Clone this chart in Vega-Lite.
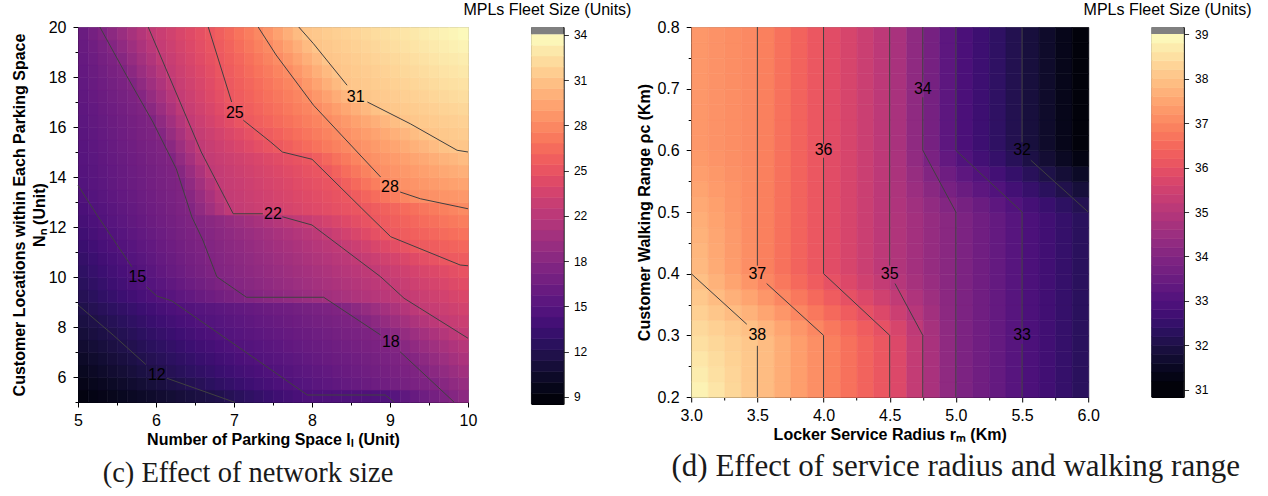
{
"$schema": "https://vega.github.io/schema/vega-lite/v6.json",
"background": "white",
"padding": {"left": 10, "top": 1, "right": 0, "bottom": 0},
"bounds": "flush",
"spacing": 63.4,
"resolve": {"scale": {"color": "independent", "stroke": "independent"}},
"config": {
  "font": "Liberation Sans",
  "view": {"stroke": null},
  "axis": {"labelFont": "Liberation Sans", "labelFontSize": 16, "labelColor": "#000", "titleFont": "Liberation Sans", "titleFontSize": 16, "titleFontWeight": "bold", "titleColor": "#000", "domainColor": "#000", "tickColor": "#000", "grid": false, "zindex": 1, "labelOverlap": false, "labelFlush": false},
  "title": {"font": "Liberation Sans"}
},
"hconcat": [
{
  "width": 390, "height": 375,
  "view": {"stroke": "#8c8c8c"},
  "title": {"text": "(c) Effect of network size", "orient": "bottom", "anchor": "middle", "frame": "group", "dx": -25, "offset": 12, "font": "Liberation Serif", "fontSize": 28.5, "fontWeight": "normal", "color": "#1a1a1a"},
  "layer": [
    {
      "data": {"values": [
{"x":5.0625,"y":5.25,"v":9.29},{"x":5.1875,"y":5.25,"v":9.49},{"x":5.3125,"y":5.25,"v":9.69},{"x":5.4375,"y":5.25,"v":9.88},{"x":5.5625,"y":5.25,"v":10.08},{"x":5.6875,"y":5.25,"v":10.28},{"x":5.8125,"y":5.25,"v":10.48},{"x":5.9375,"y":5.25,"v":10.68},{"x":6.0625,"y":5.25,"v":10.87},{"x":6.1875,"y":5.25,"v":11.07},{"x":6.3125,"y":5.25,"v":11.27},{"x":6.4375,"y":5.25,"v":11.47},{"x":6.5625,"y":5.25,"v":11.67},{"x":6.6875,"y":5.25,"v":11.87},{"x":6.8125,"y":5.25,"v":12.1},{"x":6.9375,"y":5.25,"v":12.4},{"x":7.0625,"y":5.25,"v":12.7},{"x":7.1875,"y":5.25,"v":13.0},{"x":7.3125,"y":5.25,"v":13.3},{"x":7.4375,"y":5.25,"v":13.6},{"x":7.5625,"y":5.25,"v":13.9},{"x":7.6875,"y":5.25,"v":14.2},{"x":7.8125,"y":5.25,"v":14.5},{"x":7.9375,"y":5.25,"v":14.79},{"x":8.0625,"y":5.25,"v":14.82},{"x":8.1875,"y":5.25,"v":14.85},{"x":8.3125,"y":5.25,"v":14.87},{"x":8.4375,"y":5.25,"v":14.9},{"x":8.5625,"y":5.25,"v":14.92},{"x":8.6875,"y":5.25,"v":14.95},{"x":8.8125,"y":5.25,"v":14.97},{"x":8.9375,"y":5.25,"v":15.0},{"x":9.0625,"y":5.25,"v":15.43},{"x":9.1875,"y":5.25,"v":15.9},{"x":9.3125,"y":5.25,"v":16.37},{"x":9.4375,"y":5.25,"v":16.85},{"x":9.5625,"y":5.25,"v":17.32},{"x":9.6875,"y":5.25,"v":17.8},{"x":9.8125,"y":5.25,"v":18.28},{"x":9.9375,"y":5.25,"v":18.77},
{"x":5.0625,"y":5.75,"v":9.7},{"x":5.1875,"y":5.75,"v":9.93},{"x":5.3125,"y":5.75,"v":10.16},{"x":5.4375,"y":5.75,"v":10.39},{"x":5.5625,"y":5.75,"v":10.62},{"x":5.6875,"y":5.75,"v":10.85},{"x":5.8125,"y":5.75,"v":11.08},{"x":5.9375,"y":5.75,"v":11.31},{"x":6.0625,"y":5.75,"v":11.54},{"x":6.1875,"y":5.75,"v":11.77},{"x":6.3125,"y":5.75,"v":12.01},{"x":6.4375,"y":5.75,"v":12.27},{"x":6.5625,"y":5.75,"v":12.54},{"x":6.6875,"y":5.75,"v":12.8},{"x":6.8125,"y":5.75,"v":13.07},{"x":6.9375,"y":5.75,"v":13.33},{"x":7.0625,"y":5.75,"v":13.6},{"x":7.1875,"y":5.75,"v":13.87},{"x":7.3125,"y":5.75,"v":14.13},{"x":7.4375,"y":5.75,"v":14.4},{"x":7.5625,"y":5.75,"v":14.66},{"x":7.6875,"y":5.75,"v":14.93},{"x":7.8125,"y":5.75,"v":15.15},{"x":7.9375,"y":5.75,"v":15.35},{"x":8.0625,"y":5.75,"v":15.56},{"x":8.1875,"y":5.75,"v":15.76},{"x":8.3125,"y":5.75,"v":15.96},{"x":8.4375,"y":5.75,"v":16.17},{"x":8.5625,"y":5.75,"v":16.37},{"x":8.6875,"y":5.75,"v":16.58},{"x":8.8125,"y":5.75,"v":16.78},{"x":8.9375,"y":5.75,"v":16.98},{"x":9.0625,"y":5.75,"v":17.19},{"x":9.1875,"y":5.75,"v":17.39},{"x":9.3125,"y":5.75,"v":17.6},{"x":9.4375,"y":5.75,"v":17.8},{"x":9.5625,"y":5.75,"v":18.01},{"x":9.6875,"y":5.75,"v":18.48},{"x":9.8125,"y":5.75,"v":18.96},{"x":9.9375,"y":5.75,"v":19.43},
{"x":5.0625,"y":6.25,"v":10.1},{"x":5.1875,"y":6.25,"v":10.35},{"x":5.3125,"y":6.25,"v":10.61},{"x":5.4375,"y":6.25,"v":10.87},{"x":5.5625,"y":6.25,"v":11.12},{"x":5.6875,"y":6.25,"v":11.38},{"x":5.8125,"y":6.25,"v":11.64},{"x":5.9375,"y":6.25,"v":11.89},{"x":6.0625,"y":6.25,"v":12.14},{"x":6.1875,"y":6.25,"v":12.39},{"x":6.3125,"y":6.25,"v":12.64},{"x":6.4375,"y":6.25,"v":12.89},{"x":6.5625,"y":6.25,"v":13.14},{"x":6.6875,"y":6.25,"v":13.38},{"x":6.8125,"y":6.25,"v":13.63},{"x":6.9375,"y":6.25,"v":13.88},{"x":7.0625,"y":6.25,"v":14.13},{"x":7.1875,"y":6.25,"v":14.38},{"x":7.3125,"y":6.25,"v":14.63},{"x":7.4375,"y":6.25,"v":14.88},{"x":7.5625,"y":6.25,"v":15.1},{"x":7.6875,"y":6.25,"v":15.3},{"x":7.8125,"y":6.25,"v":15.5},{"x":7.9375,"y":6.25,"v":15.69},{"x":8.0625,"y":6.25,"v":15.89},{"x":8.1875,"y":6.25,"v":16.09},{"x":8.3125,"y":6.25,"v":16.29},{"x":8.4375,"y":6.25,"v":16.49},{"x":8.5625,"y":6.25,"v":16.69},{"x":8.6875,"y":6.25,"v":16.89},{"x":8.8125,"y":6.25,"v":17.08},{"x":8.9375,"y":6.25,"v":17.28},{"x":9.0625,"y":6.25,"v":17.48},{"x":9.1875,"y":6.25,"v":17.68},{"x":9.3125,"y":6.25,"v":17.88},{"x":9.4375,"y":6.25,"v":18.18},{"x":9.5625,"y":6.25,"v":18.66},{"x":9.6875,"y":6.25,"v":19.13},{"x":9.8125,"y":6.25,"v":19.61},{"x":9.9375,"y":6.25,"v":20.08},
{"x":5.0625,"y":6.75,"v":10.48},{"x":5.1875,"y":6.75,"v":10.75},{"x":5.3125,"y":6.75,"v":11.01},{"x":5.4375,"y":6.75,"v":11.27},{"x":5.5625,"y":6.75,"v":11.54},{"x":5.6875,"y":6.75,"v":11.8},{"x":5.8125,"y":6.75,"v":12.07},{"x":5.9375,"y":6.75,"v":12.32},{"x":6.0625,"y":6.75,"v":12.57},{"x":6.1875,"y":6.75,"v":12.83},{"x":6.3125,"y":6.75,"v":13.08},{"x":6.4375,"y":6.75,"v":13.33},{"x":6.5625,"y":6.75,"v":13.59},{"x":6.6875,"y":6.75,"v":13.84},{"x":6.8125,"y":6.75,"v":14.09},{"x":6.9375,"y":6.75,"v":14.35},{"x":7.0625,"y":6.75,"v":14.6},{"x":7.1875,"y":6.75,"v":14.85},{"x":7.3125,"y":6.75,"v":15.08},{"x":7.4375,"y":6.75,"v":15.27},{"x":7.5625,"y":6.75,"v":15.46},{"x":7.6875,"y":6.75,"v":15.66},{"x":7.8125,"y":6.75,"v":15.85},{"x":7.9375,"y":6.75,"v":16.04},{"x":8.0625,"y":6.75,"v":16.23},{"x":8.1875,"y":6.75,"v":16.42},{"x":8.3125,"y":6.75,"v":16.61},{"x":8.4375,"y":6.75,"v":16.8},{"x":8.5625,"y":6.75,"v":17.0},{"x":8.6875,"y":6.75,"v":17.19},{"x":8.8125,"y":6.75,"v":17.38},{"x":8.9375,"y":6.75,"v":17.57},{"x":9.0625,"y":6.75,"v":17.76},{"x":9.1875,"y":6.75,"v":17.95},{"x":9.3125,"y":6.75,"v":18.35},{"x":9.4375,"y":6.75,"v":18.83},{"x":9.5625,"y":6.75,"v":19.3},{"x":9.6875,"y":6.75,"v":19.77},{"x":9.8125,"y":6.75,"v":20.25},{"x":9.9375,"y":6.75,"v":20.72},
{"x":5.0625,"y":7.25,"v":10.87},{"x":5.1875,"y":7.25,"v":11.13},{"x":5.3125,"y":7.25,"v":11.4},{"x":5.4375,"y":7.25,"v":11.66},{"x":5.5625,"y":7.25,"v":11.92},{"x":5.6875,"y":7.25,"v":12.18},{"x":5.8125,"y":7.25,"v":12.45},{"x":5.9375,"y":7.25,"v":12.71},{"x":6.0625,"y":7.25,"v":12.97},{"x":6.1875,"y":7.25,"v":13.23},{"x":6.3125,"y":7.25,"v":13.49},{"x":6.4375,"y":7.25,"v":13.76},{"x":6.5625,"y":7.25,"v":14.02},{"x":6.6875,"y":7.25,"v":14.28},{"x":6.8125,"y":7.25,"v":14.54},{"x":6.9375,"y":7.25,"v":14.81},{"x":7.0625,"y":7.25,"v":15.05},{"x":7.1875,"y":7.25,"v":15.23},{"x":7.3125,"y":7.25,"v":15.42},{"x":7.4375,"y":7.25,"v":15.61},{"x":7.5625,"y":7.25,"v":15.79},{"x":7.6875,"y":7.25,"v":15.98},{"x":7.8125,"y":7.25,"v":16.17},{"x":7.9375,"y":7.25,"v":16.35},{"x":8.0625,"y":7.25,"v":16.54},{"x":8.1875,"y":7.25,"v":16.73},{"x":8.3125,"y":7.25,"v":16.91},{"x":8.4375,"y":7.25,"v":17.1},{"x":8.5625,"y":7.25,"v":17.29},{"x":8.6875,"y":7.25,"v":17.47},{"x":8.8125,"y":7.25,"v":17.66},{"x":8.9375,"y":7.25,"v":17.85},{"x":9.0625,"y":7.25,"v":18.08},{"x":9.1875,"y":7.25,"v":18.55},{"x":9.3125,"y":7.25,"v":19.02},{"x":9.4375,"y":7.25,"v":19.5},{"x":9.5625,"y":7.25,"v":19.97},{"x":9.6875,"y":7.25,"v":20.44},{"x":9.8125,"y":7.25,"v":20.91},{"x":9.9375,"y":7.25,"v":21.38},
{"x":5.0625,"y":7.75,"v":11.26},{"x":5.1875,"y":7.75,"v":11.52},{"x":5.3125,"y":7.75,"v":11.78},{"x":5.4375,"y":7.75,"v":12.04},{"x":5.5625,"y":7.75,"v":12.31},{"x":5.6875,"y":7.75,"v":12.58},{"x":5.8125,"y":7.75,"v":12.85},{"x":5.9375,"y":7.75,"v":13.12},{"x":6.0625,"y":7.75,"v":13.4},{"x":6.1875,"y":7.75,"v":13.67},{"x":6.3125,"y":7.75,"v":13.94},{"x":6.4375,"y":7.75,"v":14.21},{"x":6.5625,"y":7.75,"v":14.48},{"x":6.6875,"y":7.75,"v":14.76},{"x":6.8125,"y":7.75,"v":15.02},{"x":6.9375,"y":7.75,"v":15.2},{"x":7.0625,"y":7.75,"v":15.38},{"x":7.1875,"y":7.75,"v":15.57},{"x":7.3125,"y":7.75,"v":15.75},{"x":7.4375,"y":7.75,"v":15.93},{"x":7.5625,"y":7.75,"v":16.12},{"x":7.6875,"y":7.75,"v":16.3},{"x":7.8125,"y":7.75,"v":16.48},{"x":7.9375,"y":7.75,"v":16.67},{"x":8.0625,"y":7.75,"v":16.85},{"x":8.1875,"y":7.75,"v":17.03},{"x":8.3125,"y":7.75,"v":17.21},{"x":8.4375,"y":7.75,"v":17.4},{"x":8.5625,"y":7.75,"v":17.58},{"x":8.6875,"y":7.75,"v":17.76},{"x":8.8125,"y":7.75,"v":17.95},{"x":8.9375,"y":7.75,"v":18.34},{"x":9.0625,"y":7.75,"v":18.82},{"x":9.1875,"y":7.75,"v":19.3},{"x":9.3125,"y":7.75,"v":19.78},{"x":9.4375,"y":7.75,"v":20.26},{"x":9.5625,"y":7.75,"v":20.74},{"x":9.6875,"y":7.75,"v":21.22},{"x":9.8125,"y":7.75,"v":21.7},{"x":9.9375,"y":7.75,"v":22.09},
{"x":5.0625,"y":8.25,"v":11.64},{"x":5.1875,"y":8.25,"v":11.89},{"x":5.3125,"y":8.25,"v":12.16},{"x":5.4375,"y":8.25,"v":12.45},{"x":5.5625,"y":8.25,"v":12.73},{"x":5.6875,"y":8.25,"v":13.01},{"x":5.8125,"y":8.25,"v":13.29},{"x":5.9375,"y":8.25,"v":13.57},{"x":6.0625,"y":8.25,"v":13.86},{"x":6.1875,"y":8.25,"v":14.14},{"x":6.3125,"y":8.25,"v":14.42},{"x":6.4375,"y":8.25,"v":14.7},{"x":6.5625,"y":8.25,"v":14.98},{"x":6.6875,"y":8.25,"v":15.17},{"x":6.8125,"y":8.25,"v":15.36},{"x":6.9375,"y":8.25,"v":15.54},{"x":7.0625,"y":8.25,"v":15.73},{"x":7.1875,"y":8.25,"v":15.91},{"x":7.3125,"y":8.25,"v":16.1},{"x":7.4375,"y":8.25,"v":16.28},{"x":7.5625,"y":8.25,"v":16.47},{"x":7.6875,"y":8.25,"v":16.65},{"x":7.8125,"y":8.25,"v":16.84},{"x":7.9375,"y":8.25,"v":17.02},{"x":8.0625,"y":8.25,"v":17.21},{"x":8.1875,"y":8.25,"v":17.39},{"x":8.3125,"y":8.25,"v":17.58},{"x":8.4375,"y":8.25,"v":17.76},{"x":8.5625,"y":8.25,"v":17.94},{"x":8.6875,"y":8.25,"v":18.34},{"x":8.8125,"y":8.25,"v":18.83},{"x":8.9375,"y":8.25,"v":19.31},{"x":9.0625,"y":8.25,"v":19.8},{"x":9.1875,"y":8.25,"v":20.28},{"x":9.3125,"y":8.25,"v":20.77},{"x":9.4375,"y":8.25,"v":21.25},{"x":9.5625,"y":8.25,"v":21.74},{"x":9.6875,"y":8.25,"v":22.11},{"x":9.8125,"y":8.25,"v":22.36},{"x":9.9375,"y":8.25,"v":22.6},
{"x":5.0625,"y":8.75,"v":12.03},{"x":5.1875,"y":8.75,"v":12.32},{"x":5.3125,"y":8.75,"v":12.61},{"x":5.4375,"y":8.75,"v":12.9},{"x":5.5625,"y":8.75,"v":13.19},{"x":5.6875,"y":8.75,"v":13.48},{"x":5.8125,"y":8.75,"v":13.77},{"x":5.9375,"y":8.75,"v":14.06},{"x":6.0625,"y":8.75,"v":14.36},{"x":6.1875,"y":8.75,"v":14.65},{"x":6.3125,"y":8.75,"v":14.94},{"x":6.4375,"y":8.75,"v":15.14},{"x":6.5625,"y":8.75,"v":15.33},{"x":6.6875,"y":8.75,"v":15.52},{"x":6.8125,"y":8.75,"v":15.7},{"x":6.9375,"y":8.75,"v":15.89},{"x":7.0625,"y":8.75,"v":16.07},{"x":7.1875,"y":8.75,"v":16.26},{"x":7.3125,"y":8.75,"v":16.44},{"x":7.4375,"y":8.75,"v":16.63},{"x":7.5625,"y":8.75,"v":16.81},{"x":7.6875,"y":8.75,"v":17.0},{"x":7.8125,"y":8.75,"v":17.19},{"x":7.9375,"y":8.75,"v":17.37},{"x":8.0625,"y":8.75,"v":17.56},{"x":8.1875,"y":8.75,"v":17.74},{"x":8.3125,"y":8.75,"v":17.93},{"x":8.4375,"y":8.75,"v":18.3},{"x":8.5625,"y":8.75,"v":18.79},{"x":8.6875,"y":8.75,"v":19.28},{"x":8.8125,"y":8.75,"v":19.77},{"x":8.9375,"y":8.75,"v":20.27},{"x":9.0625,"y":8.75,"v":20.76},{"x":9.1875,"y":8.75,"v":21.25},{"x":9.3125,"y":8.75,"v":21.74},{"x":9.4375,"y":8.75,"v":22.12},{"x":9.5625,"y":8.75,"v":22.37},{"x":9.6875,"y":8.75,"v":22.62},{"x":9.8125,"y":8.75,"v":22.87},{"x":9.9375,"y":8.75,"v":23.12},
{"x":5.0625,"y":9.25,"v":12.4},{"x":5.1875,"y":9.25,"v":12.74},{"x":5.3125,"y":9.25,"v":13.09},{"x":5.4375,"y":9.25,"v":13.43},{"x":5.5625,"y":9.25,"v":13.77},{"x":5.6875,"y":9.25,"v":14.11},{"x":5.8125,"y":9.25,"v":14.46},{"x":5.9375,"y":9.25,"v":14.8},{"x":6.0625,"y":9.25,"v":15.14},{"x":6.1875,"y":9.25,"v":15.47},{"x":6.3125,"y":9.25,"v":15.81},{"x":6.4375,"y":9.25,"v":16.14},{"x":6.5625,"y":9.25,"v":16.48},{"x":6.6875,"y":9.25,"v":16.81},{"x":6.8125,"y":9.25,"v":17.15},{"x":6.9375,"y":9.25,"v":17.48},{"x":7.0625,"y":9.25,"v":17.82},{"x":7.1875,"y":9.25,"v":18.11},{"x":7.3125,"y":9.25,"v":18.36},{"x":7.4375,"y":9.25,"v":18.61},{"x":7.5625,"y":9.25,"v":18.86},{"x":7.6875,"y":9.25,"v":19.1},{"x":7.8125,"y":9.25,"v":19.35},{"x":7.9375,"y":9.25,"v":19.6},{"x":8.0625,"y":9.25,"v":19.85},{"x":8.1875,"y":9.25,"v":20.09},{"x":8.3125,"y":9.25,"v":20.34},{"x":8.4375,"y":9.25,"v":20.59},{"x":8.5625,"y":9.25,"v":20.84},{"x":8.6875,"y":9.25,"v":21.08},{"x":8.8125,"y":9.25,"v":21.33},{"x":8.9375,"y":9.25,"v":21.58},{"x":9.0625,"y":9.25,"v":21.83},{"x":9.1875,"y":9.25,"v":22.08},{"x":9.3125,"y":9.25,"v":22.34},{"x":9.4375,"y":9.25,"v":22.6},{"x":9.5625,"y":9.25,"v":22.86},{"x":9.6875,"y":9.25,"v":23.11},{"x":9.8125,"y":9.25,"v":23.37},{"x":9.9375,"y":9.25,"v":23.63},
{"x":5.0625,"y":9.75,"v":12.72},{"x":5.1875,"y":9.75,"v":13.08},{"x":5.3125,"y":9.75,"v":13.44},{"x":5.4375,"y":9.75,"v":13.8},{"x":5.5625,"y":9.75,"v":14.17},{"x":5.6875,"y":9.75,"v":14.53},{"x":5.8125,"y":9.75,"v":14.89},{"x":5.9375,"y":9.75,"v":15.25},{"x":6.0625,"y":9.75,"v":15.61},{"x":6.1875,"y":9.75,"v":15.96},{"x":6.3125,"y":9.75,"v":16.32},{"x":6.4375,"y":9.75,"v":16.68},{"x":6.5625,"y":9.75,"v":17.04},{"x":6.6875,"y":9.75,"v":17.39},{"x":6.8125,"y":9.75,"v":17.75},{"x":6.9375,"y":9.75,"v":18.07},{"x":7.0625,"y":9.75,"v":18.31},{"x":7.1875,"y":9.75,"v":18.55},{"x":7.3125,"y":9.75,"v":18.79},{"x":7.4375,"y":9.75,"v":19.03},{"x":7.5625,"y":9.75,"v":19.27},{"x":7.6875,"y":9.75,"v":19.51},{"x":7.8125,"y":9.75,"v":19.76},{"x":7.9375,"y":9.75,"v":20.0},{"x":8.0625,"y":9.75,"v":20.24},{"x":8.1875,"y":9.75,"v":20.48},{"x":8.3125,"y":9.75,"v":20.73},{"x":8.4375,"y":9.75,"v":20.97},{"x":8.5625,"y":9.75,"v":21.21},{"x":8.6875,"y":9.75,"v":21.45},{"x":8.8125,"y":9.75,"v":21.69},{"x":8.9375,"y":9.75,"v":21.94},{"x":9.0625,"y":9.75,"v":22.2},{"x":9.1875,"y":9.75,"v":22.48},{"x":9.3125,"y":9.75,"v":22.76},{"x":9.4375,"y":9.75,"v":23.03},{"x":9.5625,"y":9.75,"v":23.31},{"x":9.6875,"y":9.75,"v":23.59},{"x":9.8125,"y":9.75,"v":23.86},{"x":9.9375,"y":9.75,"v":24.14},
{"x":5.0625,"y":10.25,"v":13.04},{"x":5.1875,"y":10.25,"v":13.41},{"x":5.3125,"y":10.25,"v":13.78},{"x":5.4375,"y":10.25,"v":14.14},{"x":5.5625,"y":10.25,"v":14.51},{"x":5.6875,"y":10.25,"v":14.88},{"x":5.8125,"y":10.25,"v":15.24},{"x":5.9375,"y":10.25,"v":15.61},{"x":6.0625,"y":10.25,"v":15.98},{"x":6.1875,"y":10.25,"v":16.35},{"x":6.3125,"y":10.25,"v":16.71},{"x":6.4375,"y":10.25,"v":17.08},{"x":6.5625,"y":10.25,"v":17.45},{"x":6.6875,"y":10.25,"v":17.82},{"x":6.8125,"y":10.25,"v":18.12},{"x":6.9375,"y":10.25,"v":18.37},{"x":7.0625,"y":10.25,"v":18.62},{"x":7.1875,"y":10.25,"v":18.86},{"x":7.3125,"y":10.25,"v":19.11},{"x":7.4375,"y":10.25,"v":19.35},{"x":7.5625,"y":10.25,"v":19.6},{"x":7.6875,"y":10.25,"v":19.85},{"x":7.8125,"y":10.25,"v":20.09},{"x":7.9375,"y":10.25,"v":20.34},{"x":8.0625,"y":10.25,"v":20.59},{"x":8.1875,"y":10.25,"v":20.83},{"x":8.3125,"y":10.25,"v":21.08},{"x":8.4375,"y":10.25,"v":21.33},{"x":8.5625,"y":10.25,"v":21.57},{"x":8.6875,"y":10.25,"v":21.82},{"x":8.8125,"y":10.25,"v":22.07},{"x":8.9375,"y":10.25,"v":22.36},{"x":9.0625,"y":10.25,"v":22.65},{"x":9.1875,"y":10.25,"v":22.93},{"x":9.3125,"y":10.25,"v":23.22},{"x":9.4375,"y":10.25,"v":23.51},{"x":9.5625,"y":10.25,"v":23.79},{"x":9.6875,"y":10.25,"v":24.08},{"x":9.8125,"y":10.25,"v":24.36},{"x":9.9375,"y":10.25,"v":24.65},
{"x":5.0625,"y":10.75,"v":13.35},{"x":5.1875,"y":10.75,"v":13.72},{"x":5.3125,"y":10.75,"v":14.09},{"x":5.4375,"y":10.75,"v":14.46},{"x":5.5625,"y":10.75,"v":14.83},{"x":5.6875,"y":10.75,"v":15.19},{"x":5.8125,"y":10.75,"v":15.54},{"x":5.9375,"y":10.75,"v":15.89},{"x":6.0625,"y":10.75,"v":16.24},{"x":6.1875,"y":10.75,"v":16.59},{"x":6.3125,"y":10.75,"v":16.94},{"x":6.4375,"y":10.75,"v":17.3},{"x":6.5625,"y":10.75,"v":17.65},{"x":6.6875,"y":10.75,"v":17.99},{"x":6.8125,"y":10.75,"v":18.26},{"x":6.9375,"y":10.75,"v":18.53},{"x":7.0625,"y":10.75,"v":18.8},{"x":7.1875,"y":10.75,"v":19.06},{"x":7.3125,"y":10.75,"v":19.33},{"x":7.4375,"y":10.75,"v":19.6},{"x":7.5625,"y":10.75,"v":19.87},{"x":7.6875,"y":10.75,"v":20.13},{"x":7.8125,"y":10.75,"v":20.4},{"x":7.9375,"y":10.75,"v":20.67},{"x":8.0625,"y":10.75,"v":20.93},{"x":8.1875,"y":10.75,"v":21.2},{"x":8.3125,"y":10.75,"v":21.47},{"x":8.4375,"y":10.75,"v":21.74},{"x":8.5625,"y":10.75,"v":22.01},{"x":8.6875,"y":10.75,"v":22.34},{"x":8.8125,"y":10.75,"v":22.67},{"x":8.9375,"y":10.75,"v":23.0},{"x":9.0625,"y":10.75,"v":23.33},{"x":9.1875,"y":10.75,"v":23.67},{"x":9.3125,"y":10.75,"v":24.0},{"x":9.4375,"y":10.75,"v":24.33},{"x":9.5625,"y":10.75,"v":24.66},{"x":9.6875,"y":10.75,"v":24.99},{"x":9.8125,"y":10.75,"v":25.15},{"x":9.9375,"y":10.75,"v":25.31},
{"x":5.0625,"y":11.25,"v":13.67},{"x":5.1875,"y":11.25,"v":14.04},{"x":5.3125,"y":11.25,"v":14.41},{"x":5.4375,"y":11.25,"v":14.78},{"x":5.5625,"y":11.25,"v":15.14},{"x":5.6875,"y":11.25,"v":15.47},{"x":5.8125,"y":11.25,"v":15.81},{"x":5.9375,"y":11.25,"v":16.14},{"x":6.0625,"y":11.25,"v":16.48},{"x":6.1875,"y":11.25,"v":16.81},{"x":6.3125,"y":11.25,"v":17.15},{"x":6.4375,"y":11.25,"v":17.48},{"x":6.5625,"y":11.25,"v":17.82},{"x":6.6875,"y":11.25,"v":18.13},{"x":6.8125,"y":11.25,"v":18.42},{"x":6.9375,"y":11.25,"v":18.72},{"x":7.0625,"y":11.25,"v":19.01},{"x":7.1875,"y":11.25,"v":19.3},{"x":7.3125,"y":11.25,"v":19.59},{"x":7.4375,"y":11.25,"v":19.88},{"x":7.5625,"y":11.25,"v":20.17},{"x":7.6875,"y":11.25,"v":20.46},{"x":7.8125,"y":11.25,"v":20.75},{"x":7.9375,"y":11.25,"v":21.04},{"x":8.0625,"y":11.25,"v":21.33},{"x":8.1875,"y":11.25,"v":21.62},{"x":8.3125,"y":11.25,"v":21.91},{"x":8.4375,"y":11.25,"v":22.28},{"x":8.5625,"y":11.25,"v":22.68},{"x":8.6875,"y":11.25,"v":23.08},{"x":8.8125,"y":11.25,"v":23.48},{"x":8.9375,"y":11.25,"v":23.88},{"x":9.0625,"y":11.25,"v":24.28},{"x":9.1875,"y":11.25,"v":24.67},{"x":9.3125,"y":11.25,"v":25.03},{"x":9.4375,"y":11.25,"v":25.22},{"x":9.5625,"y":11.25,"v":25.4},{"x":9.6875,"y":11.25,"v":25.59},{"x":9.8125,"y":11.25,"v":25.77},{"x":9.9375,"y":11.25,"v":25.96},
{"x":5.0625,"y":11.75,"v":13.99},{"x":5.1875,"y":11.75,"v":14.36},{"x":5.3125,"y":11.75,"v":14.74},{"x":5.4375,"y":11.75,"v":15.1},{"x":5.5625,"y":11.75,"v":15.42},{"x":5.6875,"y":11.75,"v":15.74},{"x":5.8125,"y":11.75,"v":16.07},{"x":5.9375,"y":11.75,"v":16.39},{"x":6.0625,"y":11.75,"v":16.71},{"x":6.1875,"y":11.75,"v":17.04},{"x":6.3125,"y":11.75,"v":17.36},{"x":6.4375,"y":11.75,"v":17.68},{"x":6.5625,"y":11.75,"v":18.01},{"x":6.6875,"y":11.75,"v":18.32},{"x":6.8125,"y":11.75,"v":18.64},{"x":6.9375,"y":11.75,"v":18.96},{"x":7.0625,"y":11.75,"v":19.27},{"x":7.1875,"y":11.75,"v":19.59},{"x":7.3125,"y":11.75,"v":19.91},{"x":7.4375,"y":11.75,"v":20.22},{"x":7.5625,"y":11.75,"v":20.54},{"x":7.6875,"y":11.75,"v":20.86},{"x":7.8125,"y":11.75,"v":21.17},{"x":7.9375,"y":11.75,"v":21.49},{"x":8.0625,"y":11.75,"v":21.8},{"x":8.1875,"y":11.75,"v":22.17},{"x":8.3125,"y":11.75,"v":22.63},{"x":8.4375,"y":11.75,"v":23.09},{"x":8.5625,"y":11.75,"v":23.54},{"x":8.6875,"y":11.75,"v":24.0},{"x":8.8125,"y":11.75,"v":24.46},{"x":8.9375,"y":11.75,"v":24.92},{"x":9.0625,"y":11.75,"v":25.17},{"x":9.1875,"y":11.75,"v":25.37},{"x":9.3125,"y":11.75,"v":25.58},{"x":9.4375,"y":11.75,"v":25.79},{"x":9.5625,"y":11.75,"v":25.99},{"x":9.6875,"y":11.75,"v":26.2},{"x":9.8125,"y":11.75,"v":26.4},{"x":9.9375,"y":11.75,"v":26.61},
{"x":5.0625,"y":12.25,"v":14.3},{"x":5.1875,"y":12.25,"v":14.69},{"x":5.3125,"y":12.25,"v":15.06},{"x":5.4375,"y":12.25,"v":15.37},{"x":5.5625,"y":12.25,"v":15.69},{"x":5.6875,"y":12.25,"v":16.0},{"x":5.8125,"y":12.25,"v":16.32},{"x":5.9375,"y":12.25,"v":16.63},{"x":6.0625,"y":12.25,"v":16.95},{"x":6.1875,"y":12.25,"v":17.26},{"x":6.3125,"y":12.25,"v":17.58},{"x":6.4375,"y":12.25,"v":17.9},{"x":6.5625,"y":12.25,"v":18.25},{"x":6.6875,"y":12.25,"v":18.63},{"x":6.8125,"y":12.25,"v":19.01},{"x":6.9375,"y":12.25,"v":19.39},{"x":7.0625,"y":12.25,"v":19.76},{"x":7.1875,"y":12.25,"v":20.14},{"x":7.3125,"y":12.25,"v":20.52},{"x":7.4375,"y":12.25,"v":20.9},{"x":7.5625,"y":12.25,"v":21.28},{"x":7.6875,"y":12.25,"v":21.66},{"x":7.8125,"y":12.25,"v":22.04},{"x":7.9375,"y":12.25,"v":22.41},{"x":8.0625,"y":12.25,"v":22.79},{"x":8.1875,"y":12.25,"v":23.16},{"x":8.3125,"y":12.25,"v":23.54},{"x":8.4375,"y":12.25,"v":23.91},{"x":8.5625,"y":12.25,"v":24.29},{"x":8.6875,"y":12.25,"v":24.66},{"x":8.8125,"y":12.25,"v":25.02},{"x":8.9375,"y":12.25,"v":25.27},{"x":9.0625,"y":12.25,"v":25.52},{"x":9.1875,"y":12.25,"v":25.77},{"x":9.3125,"y":12.25,"v":26.01},{"x":9.4375,"y":12.25,"v":26.26},{"x":9.5625,"y":12.25,"v":26.51},{"x":9.6875,"y":12.25,"v":26.75},{"x":9.8125,"y":12.25,"v":27.0},{"x":9.9375,"y":12.25,"v":27.25},
{"x":5.0625,"y":12.75,"v":14.61},{"x":5.1875,"y":12.75,"v":14.99},{"x":5.3125,"y":12.75,"v":15.3},{"x":5.4375,"y":12.75,"v":15.6},{"x":5.5625,"y":12.75,"v":15.91},{"x":5.6875,"y":12.75,"v":16.21},{"x":5.8125,"y":12.75,"v":16.52},{"x":5.9375,"y":12.75,"v":16.82},{"x":6.0625,"y":12.75,"v":17.13},{"x":6.1875,"y":12.75,"v":17.43},{"x":6.3125,"y":12.75,"v":17.74},{"x":6.4375,"y":12.75,"v":18.13},{"x":6.5625,"y":12.75,"v":19.07},{"x":6.6875,"y":12.75,"v":20.02},{"x":6.8125,"y":12.75,"v":20.96},{"x":6.9375,"y":12.75,"v":21.91},{"x":7.0625,"y":12.75,"v":22.2},{"x":7.1875,"y":12.75,"v":22.42},{"x":7.3125,"y":12.75,"v":22.64},{"x":7.4375,"y":12.75,"v":22.86},{"x":7.5625,"y":12.75,"v":23.09},{"x":7.6875,"y":12.75,"v":23.31},{"x":7.8125,"y":12.75,"v":23.53},{"x":7.9375,"y":12.75,"v":23.75},{"x":8.0625,"y":12.75,"v":23.97},{"x":8.1875,"y":12.75,"v":24.2},{"x":8.3125,"y":12.75,"v":24.42},{"x":8.4375,"y":12.75,"v":24.64},{"x":8.5625,"y":12.75,"v":24.86},{"x":8.6875,"y":12.75,"v":25.11},{"x":8.8125,"y":12.75,"v":25.39},{"x":8.9375,"y":12.75,"v":25.67},{"x":9.0625,"y":12.75,"v":25.95},{"x":9.1875,"y":12.75,"v":26.24},{"x":9.3125,"y":12.75,"v":26.52},{"x":9.4375,"y":12.75,"v":26.8},{"x":9.5625,"y":12.75,"v":27.08},{"x":9.6875,"y":12.75,"v":27.36},{"x":9.8125,"y":12.75,"v":27.64},{"x":9.9375,"y":12.75,"v":27.93},
{"x":5.0625,"y":13.25,"v":14.92},{"x":5.1875,"y":13.25,"v":15.23},{"x":5.3125,"y":13.25,"v":15.52},{"x":5.4375,"y":13.25,"v":15.82},{"x":5.5625,"y":13.25,"v":16.11},{"x":5.6875,"y":13.25,"v":16.4},{"x":5.8125,"y":13.25,"v":16.69},{"x":5.9375,"y":13.25,"v":16.99},{"x":6.0625,"y":13.25,"v":17.28},{"x":6.1875,"y":13.25,"v":17.57},{"x":6.3125,"y":13.25,"v":17.87},{"x":6.4375,"y":13.25,"v":18.54},{"x":6.5625,"y":13.25,"v":19.54},{"x":6.6875,"y":13.25,"v":20.54},{"x":6.8125,"y":13.25,"v":21.54},{"x":6.9375,"y":13.25,"v":22.13},{"x":7.0625,"y":13.25,"v":22.36},{"x":7.1875,"y":13.25,"v":22.6},{"x":7.3125,"y":13.25,"v":22.83},{"x":7.4375,"y":13.25,"v":23.07},{"x":7.5625,"y":13.25,"v":23.3},{"x":7.6875,"y":13.25,"v":23.54},{"x":7.8125,"y":13.25,"v":23.77},{"x":7.9375,"y":13.25,"v":24.01},{"x":8.0625,"y":13.25,"v":24.24},{"x":8.1875,"y":13.25,"v":24.47},{"x":8.3125,"y":13.25,"v":24.71},{"x":8.4375,"y":13.25,"v":24.94},{"x":8.5625,"y":13.25,"v":25.35},{"x":8.6875,"y":13.25,"v":25.82},{"x":8.8125,"y":13.25,"v":26.29},{"x":8.9375,"y":13.25,"v":26.76},{"x":9.0625,"y":13.25,"v":27.22},{"x":9.1875,"y":13.25,"v":27.69},{"x":9.3125,"y":13.25,"v":28.04},{"x":9.4375,"y":13.25,"v":28.16},{"x":9.5625,"y":13.25,"v":28.28},{"x":9.6875,"y":13.25,"v":28.39},{"x":9.8125,"y":13.25,"v":28.51},{"x":9.9375,"y":13.25,"v":28.63},
{"x":5.0625,"y":13.75,"v":15.16},{"x":5.1875,"y":13.75,"v":15.44},{"x":5.3125,"y":13.75,"v":15.73},{"x":5.4375,"y":13.75,"v":16.01},{"x":5.5625,"y":13.75,"v":16.29},{"x":5.6875,"y":13.75,"v":16.57},{"x":5.8125,"y":13.75,"v":16.85},{"x":5.9375,"y":13.75,"v":17.14},{"x":6.0625,"y":13.75,"v":17.42},{"x":6.1875,"y":13.75,"v":17.7},{"x":6.3125,"y":13.75,"v":17.98},{"x":6.4375,"y":13.75,"v":19.02},{"x":6.5625,"y":13.75,"v":20.11},{"x":6.6875,"y":13.75,"v":21.2},{"x":6.8125,"y":13.75,"v":22.06},{"x":6.9375,"y":13.75,"v":22.31},{"x":7.0625,"y":13.75,"v":22.55},{"x":7.1875,"y":13.75,"v":22.8},{"x":7.3125,"y":13.75,"v":23.04},{"x":7.4375,"y":13.75,"v":23.29},{"x":7.5625,"y":13.75,"v":23.53},{"x":7.6875,"y":13.75,"v":23.78},{"x":7.8125,"y":13.75,"v":24.02},{"x":7.9375,"y":13.75,"v":24.27},{"x":8.0625,"y":13.75,"v":24.52},{"x":8.1875,"y":13.75,"v":24.76},{"x":8.3125,"y":13.75,"v":25.01},{"x":8.4375,"y":13.75,"v":25.57},{"x":8.5625,"y":13.75,"v":26.13},{"x":8.6875,"y":13.75,"v":26.69},{"x":8.8125,"y":13.75,"v":27.25},{"x":8.9375,"y":13.75,"v":27.81},{"x":9.0625,"y":13.75,"v":28.11},{"x":9.1875,"y":13.75,"v":28.28},{"x":9.3125,"y":13.75,"v":28.44},{"x":9.4375,"y":13.75,"v":28.61},{"x":9.5625,"y":13.75,"v":28.77},{"x":9.6875,"y":13.75,"v":28.94},{"x":9.8125,"y":13.75,"v":29.1},{"x":9.9375,"y":13.75,"v":29.27},
{"x":5.0625,"y":14.25,"v":15.26},{"x":5.1875,"y":14.25,"v":15.55},{"x":5.3125,"y":14.25,"v":15.83},{"x":5.4375,"y":14.25,"v":16.11},{"x":5.5625,"y":14.25,"v":16.4},{"x":5.6875,"y":14.25,"v":16.68},{"x":5.8125,"y":14.25,"v":16.96},{"x":5.9375,"y":14.25,"v":17.25},{"x":6.0625,"y":14.25,"v":17.53},{"x":6.1875,"y":14.25,"v":17.81},{"x":6.3125,"y":14.25,"v":18.4},{"x":6.4375,"y":14.25,"v":19.56},{"x":6.5625,"y":14.25,"v":20.72},{"x":6.6875,"y":14.25,"v":21.88},{"x":6.8125,"y":14.25,"v":22.23},{"x":6.9375,"y":14.25,"v":22.49},{"x":7.0625,"y":14.25,"v":22.75},{"x":7.1875,"y":14.25,"v":23.01},{"x":7.3125,"y":14.25,"v":23.27},{"x":7.4375,"y":14.25,"v":23.53},{"x":7.5625,"y":14.25,"v":23.78},{"x":7.6875,"y":14.25,"v":24.04},{"x":7.8125,"y":14.25,"v":24.3},{"x":7.9375,"y":14.25,"v":24.56},{"x":8.0625,"y":14.25,"v":24.82},{"x":8.1875,"y":14.25,"v":25.17},{"x":8.3125,"y":14.25,"v":25.74},{"x":8.4375,"y":14.25,"v":26.31},{"x":8.5625,"y":14.25,"v":26.87},{"x":8.6875,"y":14.25,"v":27.44},{"x":8.8125,"y":14.25,"v":28.0},{"x":8.9375,"y":14.25,"v":28.22},{"x":9.0625,"y":14.25,"v":28.43},{"x":9.1875,"y":14.25,"v":28.64},{"x":9.3125,"y":14.25,"v":28.85},{"x":9.4375,"y":14.25,"v":29.06},{"x":9.5625,"y":14.25,"v":29.27},{"x":9.6875,"y":14.25,"v":29.48},{"x":9.8125,"y":14.25,"v":29.69},{"x":9.9375,"y":14.25,"v":29.9},
{"x":5.0625,"y":14.75,"v":15.37},{"x":5.1875,"y":14.75,"v":15.66},{"x":5.3125,"y":14.75,"v":15.95},{"x":5.4375,"y":14.75,"v":16.24},{"x":5.5625,"y":14.75,"v":16.53},{"x":5.6875,"y":14.75,"v":16.82},{"x":5.8125,"y":14.75,"v":17.12},{"x":5.9375,"y":14.75,"v":17.41},{"x":6.0625,"y":14.75,"v":17.7},{"x":6.1875,"y":14.75,"v":17.99},{"x":6.3125,"y":14.75,"v":19.14},{"x":6.4375,"y":14.75,"v":20.3},{"x":6.5625,"y":14.75,"v":21.47},{"x":6.6875,"y":14.75,"v":22.15},{"x":6.8125,"y":14.75,"v":22.43},{"x":6.9375,"y":14.75,"v":22.72},{"x":7.0625,"y":14.75,"v":23.0},{"x":7.1875,"y":14.75,"v":23.28},{"x":7.3125,"y":14.75,"v":23.56},{"x":7.4375,"y":14.75,"v":23.84},{"x":7.5625,"y":14.75,"v":24.12},{"x":7.6875,"y":14.75,"v":24.41},{"x":7.8125,"y":14.75,"v":24.69},{"x":7.9375,"y":14.75,"v":24.97},{"x":8.0625,"y":14.75,"v":25.48},{"x":8.1875,"y":14.75,"v":26.0},{"x":8.3125,"y":14.75,"v":26.53},{"x":8.4375,"y":14.75,"v":27.06},{"x":8.5625,"y":14.75,"v":27.58},{"x":8.6875,"y":14.75,"v":28.05},{"x":8.8125,"y":14.75,"v":28.3},{"x":8.9375,"y":14.75,"v":28.55},{"x":9.0625,"y":14.75,"v":28.8},{"x":9.1875,"y":14.75,"v":29.05},{"x":9.3125,"y":14.75,"v":29.3},{"x":9.4375,"y":14.75,"v":29.55},{"x":9.5625,"y":14.75,"v":29.79},{"x":9.6875,"y":14.75,"v":30.04},{"x":9.8125,"y":14.75,"v":30.29},{"x":9.9375,"y":14.75,"v":30.54},
{"x":5.0625,"y":15.25,"v":15.47},{"x":5.1875,"y":15.25,"v":15.77},{"x":5.3125,"y":15.25,"v":16.07},{"x":5.4375,"y":15.25,"v":16.38},{"x":5.5625,"y":15.25,"v":16.68},{"x":5.6875,"y":15.25,"v":16.98},{"x":5.8125,"y":15.25,"v":17.28},{"x":5.9375,"y":15.25,"v":17.58},{"x":6.0625,"y":15.25,"v":17.88},{"x":6.1875,"y":15.25,"v":18.7},{"x":6.3125,"y":15.25,"v":19.84},{"x":6.4375,"y":15.25,"v":20.98},{"x":6.5625,"y":15.25,"v":22.04},{"x":6.6875,"y":15.25,"v":22.42},{"x":6.8125,"y":15.25,"v":22.8},{"x":6.9375,"y":15.25,"v":23.19},{"x":7.0625,"y":15.25,"v":23.57},{"x":7.1875,"y":15.25,"v":23.95},{"x":7.3125,"y":15.25,"v":24.33},{"x":7.4375,"y":15.25,"v":24.72},{"x":7.5625,"y":15.25,"v":25.1},{"x":7.6875,"y":15.25,"v":25.48},{"x":7.8125,"y":15.25,"v":25.86},{"x":7.9375,"y":15.25,"v":26.25},{"x":8.0625,"y":15.25,"v":26.63},{"x":8.1875,"y":15.25,"v":27.01},{"x":8.3125,"y":15.25,"v":27.4},{"x":8.4375,"y":15.25,"v":27.78},{"x":8.5625,"y":15.25,"v":28.13},{"x":8.6875,"y":15.25,"v":28.43},{"x":8.8125,"y":15.25,"v":28.73},{"x":8.9375,"y":15.25,"v":29.03},{"x":9.0625,"y":15.25,"v":29.34},{"x":9.1875,"y":15.25,"v":29.64},{"x":9.3125,"y":15.25,"v":29.94},{"x":9.4375,"y":15.25,"v":30.24},{"x":9.5625,"y":15.25,"v":30.55},{"x":9.6875,"y":15.25,"v":30.85},{"x":9.8125,"y":15.25,"v":31.04},{"x":9.9375,"y":15.25,"v":31.12},
{"x":5.0625,"y":15.75,"v":15.59},{"x":5.1875,"y":15.75,"v":15.9},{"x":5.3125,"y":15.75,"v":16.21},{"x":5.4375,"y":15.75,"v":16.52},{"x":5.5625,"y":15.75,"v":16.83},{"x":5.6875,"y":15.75,"v":17.15},{"x":5.8125,"y":15.75,"v":17.46},{"x":5.9375,"y":15.75,"v":17.77},{"x":6.0625,"y":15.75,"v":18.29},{"x":6.1875,"y":15.75,"v":19.4},{"x":6.3125,"y":15.75,"v":20.51},{"x":6.4375,"y":15.75,"v":21.62},{"x":6.5625,"y":15.75,"v":22.29},{"x":6.6875,"y":15.75,"v":22.73},{"x":6.8125,"y":15.75,"v":23.18},{"x":6.9375,"y":15.75,"v":23.62},{"x":7.0625,"y":15.75,"v":24.06},{"x":7.1875,"y":15.75,"v":24.5},{"x":7.3125,"y":15.75,"v":24.93},{"x":7.4375,"y":15.75,"v":25.31},{"x":7.5625,"y":15.75,"v":25.68},{"x":7.6875,"y":15.75,"v":26.04},{"x":7.8125,"y":15.75,"v":26.4},{"x":7.9375,"y":15.75,"v":26.77},{"x":8.0625,"y":15.75,"v":27.13},{"x":8.1875,"y":15.75,"v":27.5},{"x":8.3125,"y":15.75,"v":27.86},{"x":8.4375,"y":15.75,"v":28.21},{"x":8.5625,"y":15.75,"v":28.55},{"x":8.6875,"y":15.75,"v":28.89},{"x":8.8125,"y":15.75,"v":29.22},{"x":8.9375,"y":15.75,"v":29.56},{"x":9.0625,"y":15.75,"v":29.9},{"x":9.1875,"y":15.75,"v":30.24},{"x":9.3125,"y":15.75,"v":30.58},{"x":9.4375,"y":15.75,"v":30.92},{"x":9.5625,"y":15.75,"v":31.08},{"x":9.6875,"y":15.75,"v":31.19},{"x":9.8125,"y":15.75,"v":31.3},{"x":9.9375,"y":15.75,"v":31.41},
{"x":5.0625,"y":16.25,"v":15.69},{"x":5.1875,"y":16.25,"v":16.02},{"x":5.3125,"y":16.25,"v":16.34},{"x":5.4375,"y":16.25,"v":16.67},{"x":5.5625,"y":16.25,"v":16.99},{"x":5.6875,"y":16.25,"v":17.32},{"x":5.8125,"y":16.25,"v":17.64},{"x":5.9375,"y":16.25,"v":17.97},{"x":6.0625,"y":16.25,"v":18.98},{"x":6.1875,"y":16.25,"v":20.07},{"x":6.3125,"y":16.25,"v":21.15},{"x":6.4375,"y":16.25,"v":22.11},{"x":6.5625,"y":16.25,"v":22.64},{"x":6.6875,"y":16.25,"v":23.16},{"x":6.8125,"y":16.25,"v":23.68},{"x":6.9375,"y":16.25,"v":24.2},{"x":7.0625,"y":16.25,"v":24.72},{"x":7.1875,"y":16.25,"v":25.16},{"x":7.3125,"y":16.25,"v":25.51},{"x":7.4375,"y":16.25,"v":25.85},{"x":7.5625,"y":16.25,"v":26.2},{"x":7.6875,"y":16.25,"v":26.55},{"x":7.8125,"y":16.25,"v":26.9},{"x":7.9375,"y":16.25,"v":27.24},{"x":8.0625,"y":16.25,"v":27.59},{"x":8.1875,"y":16.25,"v":27.94},{"x":8.3125,"y":16.25,"v":28.32},{"x":8.4375,"y":16.25,"v":28.7},{"x":8.5625,"y":16.25,"v":29.09},{"x":8.6875,"y":16.25,"v":29.48},{"x":8.8125,"y":16.25,"v":29.86},{"x":8.9375,"y":16.25,"v":30.25},{"x":9.0625,"y":16.25,"v":30.64},{"x":9.1875,"y":16.25,"v":31.01},{"x":9.3125,"y":16.25,"v":31.13},{"x":9.4375,"y":16.25,"v":31.25},{"x":9.5625,"y":16.25,"v":31.36},{"x":9.6875,"y":16.25,"v":31.48},{"x":9.8125,"y":16.25,"v":31.6},{"x":9.9375,"y":16.25,"v":31.72},
{"x":5.0625,"y":16.75,"v":15.8},{"x":5.1875,"y":16.75,"v":16.15},{"x":5.3125,"y":16.75,"v":16.49},{"x":5.4375,"y":16.75,"v":16.84},{"x":5.5625,"y":16.75,"v":17.18},{"x":5.6875,"y":16.75,"v":17.53},{"x":5.8125,"y":16.75,"v":17.87},{"x":5.9375,"y":16.75,"v":18.65},{"x":6.0625,"y":16.75,"v":19.69},{"x":6.1875,"y":16.75,"v":20.73},{"x":6.3125,"y":16.75,"v":21.78},{"x":6.4375,"y":16.75,"v":22.43},{"x":6.5625,"y":16.75,"v":22.98},{"x":6.6875,"y":16.75,"v":23.54},{"x":6.8125,"y":16.75,"v":24.09},{"x":6.9375,"y":16.75,"v":24.64},{"x":7.0625,"y":16.75,"v":25.12},{"x":7.1875,"y":16.75,"v":25.48},{"x":7.3125,"y":16.75,"v":25.84},{"x":7.4375,"y":16.75,"v":26.2},{"x":7.5625,"y":16.75,"v":26.56},{"x":7.6875,"y":16.75,"v":26.92},{"x":7.8125,"y":16.75,"v":27.28},{"x":7.9375,"y":16.75,"v":27.64},{"x":8.0625,"y":16.75,"v":28.01},{"x":8.1875,"y":16.75,"v":28.47},{"x":8.3125,"y":16.75,"v":28.94},{"x":8.4375,"y":16.75,"v":29.4},{"x":8.5625,"y":16.75,"v":29.86},{"x":8.6875,"y":16.75,"v":30.33},{"x":8.8125,"y":16.75,"v":30.79},{"x":8.9375,"y":16.75,"v":31.07},{"x":9.0625,"y":16.75,"v":31.19},{"x":9.1875,"y":16.75,"v":31.31},{"x":9.3125,"y":16.75,"v":31.43},{"x":9.4375,"y":16.75,"v":31.55},{"x":9.5625,"y":16.75,"v":31.67},{"x":9.6875,"y":16.75,"v":31.79},{"x":9.8125,"y":16.75,"v":31.91},{"x":9.9375,"y":16.75,"v":32.03},
{"x":5.0625,"y":17.25,"v":15.92},{"x":5.1875,"y":17.25,"v":16.29},{"x":5.3125,"y":17.25,"v":16.66},{"x":5.4375,"y":17.25,"v":17.02},{"x":5.5625,"y":17.25,"v":17.39},{"x":5.6875,"y":17.25,"v":17.76},{"x":5.8125,"y":17.25,"v":18.34},{"x":5.9375,"y":17.25,"v":19.34},{"x":6.0625,"y":17.25,"v":20.34},{"x":6.1875,"y":17.25,"v":21.34},{"x":6.3125,"y":17.25,"v":22.19},{"x":6.4375,"y":17.25,"v":22.74},{"x":6.5625,"y":17.25,"v":23.29},{"x":6.6875,"y":17.25,"v":23.84},{"x":6.8125,"y":17.25,"v":24.39},{"x":6.9375,"y":17.25,"v":24.94},{"x":7.0625,"y":17.25,"v":25.34},{"x":7.1875,"y":17.25,"v":25.73},{"x":7.3125,"y":17.25,"v":26.1},{"x":7.4375,"y":17.25,"v":26.49},{"x":7.5625,"y":17.25,"v":26.87},{"x":7.6875,"y":17.25,"v":27.26},{"x":7.8125,"y":17.25,"v":27.64},{"x":7.9375,"y":17.25,"v":28.03},{"x":8.0625,"y":17.25,"v":28.58},{"x":8.1875,"y":17.25,"v":29.13},{"x":8.3125,"y":17.25,"v":29.68},{"x":8.4375,"y":17.25,"v":30.24},{"x":8.5625,"y":17.25,"v":30.79},{"x":8.6875,"y":17.25,"v":31.08},{"x":8.8125,"y":17.25,"v":31.2},{"x":8.9375,"y":17.25,"v":31.33},{"x":9.0625,"y":17.25,"v":31.46},{"x":9.1875,"y":17.25,"v":31.58},{"x":9.3125,"y":17.25,"v":31.71},{"x":9.4375,"y":17.25,"v":31.84},{"x":9.5625,"y":17.25,"v":31.96},{"x":9.6875,"y":17.25,"v":32.09},{"x":9.8125,"y":17.25,"v":32.22},{"x":9.9375,"y":17.25,"v":32.35},
{"x":5.0625,"y":17.75,"v":16.04},{"x":5.1875,"y":17.75,"v":16.44},{"x":5.3125,"y":17.75,"v":16.83},{"x":5.4375,"y":17.75,"v":17.23},{"x":5.5625,"y":17.75,"v":17.62},{"x":5.6875,"y":17.75,"v":18.06},{"x":5.8125,"y":17.75,"v":19.0},{"x":5.9375,"y":17.75,"v":19.94},{"x":6.0625,"y":17.75,"v":20.89},{"x":6.1875,"y":17.75,"v":21.83},{"x":6.3125,"y":17.75,"v":22.45},{"x":6.4375,"y":17.75,"v":22.99},{"x":6.5625,"y":17.75,"v":23.53},{"x":6.6875,"y":17.75,"v":24.08},{"x":6.8125,"y":17.75,"v":24.62},{"x":6.9375,"y":17.75,"v":25.12},{"x":7.0625,"y":17.75,"v":25.54},{"x":7.1875,"y":17.75,"v":25.95},{"x":7.3125,"y":17.75,"v":26.36},{"x":7.4375,"y":17.75,"v":26.77},{"x":7.5625,"y":17.75,"v":27.18},{"x":7.6875,"y":17.75,"v":27.6},{"x":7.8125,"y":17.75,"v":28.01},{"x":7.9375,"y":17.75,"v":28.62},{"x":8.0625,"y":17.75,"v":29.22},{"x":8.1875,"y":17.75,"v":29.83},{"x":8.3125,"y":17.75,"v":30.43},{"x":8.4375,"y":17.75,"v":31.01},{"x":8.5625,"y":17.75,"v":31.14},{"x":8.6875,"y":17.75,"v":31.28},{"x":8.8125,"y":17.75,"v":31.42},{"x":8.9375,"y":17.75,"v":31.56},{"x":9.0625,"y":17.75,"v":31.69},{"x":9.1875,"y":17.75,"v":31.83},{"x":9.3125,"y":17.75,"v":31.97},{"x":9.4375,"y":17.75,"v":32.1},{"x":9.5625,"y":17.75,"v":32.24},{"x":9.6875,"y":17.75,"v":32.38},{"x":9.8125,"y":17.75,"v":32.51},{"x":9.9375,"y":17.75,"v":32.65},
{"x":5.0625,"y":18.25,"v":16.16},{"x":5.1875,"y":18.25,"v":16.59},{"x":5.3125,"y":18.25,"v":17.03},{"x":5.4375,"y":18.25,"v":17.47},{"x":5.5625,"y":18.25,"v":17.91},{"x":5.6875,"y":18.25,"v":18.71},{"x":5.8125,"y":18.25,"v":19.62},{"x":5.9375,"y":18.25,"v":20.53},{"x":6.0625,"y":18.25,"v":21.44},{"x":6.1875,"y":18.25,"v":22.2},{"x":6.3125,"y":18.25,"v":22.73},{"x":6.4375,"y":18.25,"v":23.25},{"x":6.5625,"y":18.25,"v":23.78},{"x":6.6875,"y":18.25,"v":24.31},{"x":6.8125,"y":18.25,"v":24.84},{"x":6.9375,"y":18.25,"v":25.31},{"x":7.0625,"y":18.25,"v":25.76},{"x":7.1875,"y":18.25,"v":26.21},{"x":7.3125,"y":18.25,"v":26.65},{"x":7.4375,"y":18.25,"v":27.1},{"x":7.5625,"y":18.25,"v":27.55},{"x":7.6875,"y":18.25,"v":27.99},{"x":7.8125,"y":18.25,"v":28.6},{"x":7.9375,"y":18.25,"v":29.22},{"x":8.0625,"y":18.25,"v":29.83},{"x":8.1875,"y":18.25,"v":30.45},{"x":8.3125,"y":18.25,"v":31.01},{"x":8.4375,"y":18.25,"v":31.16},{"x":8.5625,"y":18.25,"v":31.31},{"x":8.6875,"y":18.25,"v":31.46},{"x":8.8125,"y":18.25,"v":31.61},{"x":8.9375,"y":18.25,"v":31.76},{"x":9.0625,"y":18.25,"v":31.91},{"x":9.1875,"y":18.25,"v":32.06},{"x":9.3125,"y":18.25,"v":32.21},{"x":9.4375,"y":18.25,"v":32.36},{"x":9.5625,"y":18.25,"v":32.51},{"x":9.6875,"y":18.25,"v":32.66},{"x":9.8125,"y":18.25,"v":32.81},{"x":9.9375,"y":18.25,"v":32.96},
{"x":5.0625,"y":18.75,"v":16.29},{"x":5.1875,"y":18.75,"v":16.78},{"x":5.3125,"y":18.75,"v":17.27},{"x":5.4375,"y":18.75,"v":17.76},{"x":5.5625,"y":18.75,"v":18.44},{"x":5.6875,"y":18.75,"v":19.32},{"x":5.8125,"y":18.75,"v":20.19},{"x":5.9375,"y":18.75,"v":21.07},{"x":6.0625,"y":18.75,"v":21.95},{"x":6.1875,"y":18.75,"v":22.48},{"x":6.3125,"y":18.75,"v":23.0},{"x":6.4375,"y":18.75,"v":23.51},{"x":6.5625,"y":18.75,"v":24.02},{"x":6.6875,"y":18.75,"v":24.54},{"x":6.8125,"y":18.75,"v":25.05},{"x":6.9375,"y":18.75,"v":25.54},{"x":7.0625,"y":18.75,"v":26.02},{"x":7.1875,"y":18.75,"v":26.51},{"x":7.3125,"y":18.75,"v":27.0},{"x":7.4375,"y":18.75,"v":27.49},{"x":7.5625,"y":18.75,"v":27.97},{"x":7.6875,"y":18.75,"v":28.59},{"x":7.8125,"y":18.75,"v":29.21},{"x":7.9375,"y":18.75,"v":29.84},{"x":8.0625,"y":18.75,"v":30.46},{"x":8.1875,"y":18.75,"v":31.02},{"x":8.3125,"y":18.75,"v":31.18},{"x":8.4375,"y":18.75,"v":31.34},{"x":8.5625,"y":18.75,"v":31.5},{"x":8.6875,"y":18.75,"v":31.66},{"x":8.8125,"y":18.75,"v":31.82},{"x":8.9375,"y":18.75,"v":31.98},{"x":9.0625,"y":18.75,"v":32.14},{"x":9.1875,"y":18.75,"v":32.3},{"x":9.3125,"y":18.75,"v":32.46},{"x":9.4375,"y":18.75,"v":32.62},{"x":9.5625,"y":18.75,"v":32.78},{"x":9.6875,"y":18.75,"v":32.94},{"x":9.8125,"y":18.75,"v":33.1},{"x":9.9375,"y":18.75,"v":33.26},
{"x":5.0625,"y":19.25,"v":16.43},{"x":5.1875,"y":19.25,"v":17.0},{"x":5.3125,"y":19.25,"v":17.56},{"x":5.4375,"y":19.25,"v":18.19},{"x":5.5625,"y":19.25,"v":19.03},{"x":5.6875,"y":19.25,"v":19.88},{"x":5.8125,"y":19.25,"v":20.73},{"x":5.9375,"y":19.25,"v":21.58},{"x":6.0625,"y":19.25,"v":22.25},{"x":6.1875,"y":19.25,"v":22.75},{"x":6.3125,"y":19.25,"v":23.25},{"x":6.4375,"y":19.25,"v":23.75},{"x":6.5625,"y":19.25,"v":24.25},{"x":6.6875,"y":19.25,"v":24.75},{"x":6.8125,"y":19.25,"v":25.26},{"x":6.9375,"y":19.25,"v":25.79},{"x":7.0625,"y":19.25,"v":26.32},{"x":7.1875,"y":19.25,"v":26.85},{"x":7.3125,"y":19.25,"v":27.38},{"x":7.4375,"y":19.25,"v":27.91},{"x":7.5625,"y":19.25,"v":28.53},{"x":7.6875,"y":19.25,"v":29.18},{"x":7.8125,"y":19.25,"v":29.82},{"x":7.9375,"y":19.25,"v":30.47},{"x":8.0625,"y":19.25,"v":31.03},{"x":8.1875,"y":19.25,"v":31.2},{"x":8.3125,"y":19.25,"v":31.37},{"x":8.4375,"y":19.25,"v":31.54},{"x":8.5625,"y":19.25,"v":31.71},{"x":8.6875,"y":19.25,"v":31.88},{"x":8.8125,"y":19.25,"v":32.05},{"x":8.9375,"y":19.25,"v":32.22},{"x":9.0625,"y":19.25,"v":32.39},{"x":9.1875,"y":19.25,"v":32.56},{"x":9.3125,"y":19.25,"v":32.73},{"x":9.4375,"y":19.25,"v":32.89},{"x":9.5625,"y":19.25,"v":33.06},{"x":9.6875,"y":19.25,"v":33.23},{"x":9.8125,"y":19.25,"v":33.4},{"x":9.9375,"y":19.25,"v":33.57},
{"x":5.0625,"y":19.75,"v":16.59},{"x":5.1875,"y":19.75,"v":17.28},{"x":5.3125,"y":19.75,"v":17.96},{"x":5.4375,"y":19.75,"v":18.77},{"x":5.5625,"y":19.75,"v":19.59},{"x":5.6875,"y":19.75,"v":20.41},{"x":5.8125,"y":19.75,"v":21.23},{"x":5.9375,"y":19.75,"v":22.03},{"x":6.0625,"y":19.75,"v":22.52},{"x":6.1875,"y":19.75,"v":23.0},{"x":6.3125,"y":19.75,"v":23.49},{"x":6.4375,"y":19.75,"v":23.98},{"x":6.5625,"y":19.75,"v":24.47},{"x":6.6875,"y":19.75,"v":24.95},{"x":6.8125,"y":19.75,"v":25.51},{"x":6.9375,"y":19.75,"v":26.08},{"x":7.0625,"y":19.75,"v":26.65},{"x":7.1875,"y":19.75,"v":27.22},{"x":7.3125,"y":19.75,"v":27.78},{"x":7.4375,"y":19.75,"v":28.43},{"x":7.5625,"y":19.75,"v":29.13},{"x":7.6875,"y":19.75,"v":29.82},{"x":7.8125,"y":19.75,"v":30.51},{"x":7.9375,"y":19.75,"v":31.05},{"x":8.0625,"y":19.75,"v":31.23},{"x":8.1875,"y":19.75,"v":31.41},{"x":8.3125,"y":19.75,"v":31.58},{"x":8.4375,"y":19.75,"v":31.76},{"x":8.5625,"y":19.75,"v":31.93},{"x":8.6875,"y":19.75,"v":32.11},{"x":8.8125,"y":19.75,"v":32.29},{"x":8.9375,"y":19.75,"v":32.46},{"x":9.0625,"y":19.75,"v":32.64},{"x":9.1875,"y":19.75,"v":32.81},{"x":9.3125,"y":19.75,"v":32.99},{"x":9.4375,"y":19.75,"v":33.17},{"x":9.5625,"y":19.75,"v":33.34},{"x":9.6875,"y":19.75,"v":33.52},{"x":9.8125,"y":19.75,"v":33.69},{"x":9.9375,"y":19.75,"v":33.87}
      ]},
      "mark": {"type": "rect", "strokeWidth": 0.6},
      "encoding": {
        "x": {"field": "x", "type": "quantitative", "bin": {"step": 0.125, "extent": [5, 10], "nice": false},
              "scale": {"domain": [5, 10], "nice": false, "zero": false},
              "axis": {"title": "Number of Parking Space lₗ (Unit)", "values": [5,5.5,6,6.5,7,7.5,8,8.5,9,9.5,10], "format": ".0f",
                       "labelExpr": "datum.value % 1 == 0 ? datum.label : ''",
                       "tickSize": {"condition": {"test": "datum.value % 1 == 0", "value": 5}, "value": 3},
                       "labelPadding": 5, "titlePadding": 3}},
        "y": {"field": "y", "type": "quantitative", "bin": {"step": 0.5, "extent": [5, 20], "nice": false},
              "scale": {"domain": [5, 20], "nice": false, "zero": false},
              "axis": {"title": ["Customer Locations within Each Parking Space", "Nₙ (Unit)"], "values": [5,6,7,8,9,10,11,12,13,14,15,16,17,18,19,20], "format": "d",
                       "labelExpr": "datum.value % 2 == 0 ? datum.label : ''",
                       "tickSize": {"condition": {"test": "datum.value % 2 == 0", "value": 5}, "value": 3},
                       "labelPadding": 7, "titlePadding": 1, "titleLineHeight": 20}},
        "color": {"field": "v", "type": "quantitative", "scale": {"scheme": "magma", "domain": [8.6, 34.1], "clamp": true}, "legend": null},
        "stroke": {"field": "v", "type": "quantitative", "scale": {"scheme": "magma", "domain": [8.6, 34.1], "clamp": true}, "legend": null}
      }
    },
    {
      "data": {"values": [
{"seg":"12a","lv":12,"i":0,"x":5.0,"y":8.88},{"seg":"12a","lv":12,"i":1,"x":5.45,"y":7.68},{"seg":"12a","lv":12,"i":2,"x":5.87,"y":6.5},
{"seg":"12b","lv":12,"i":0,"x":6.14,"y":5.95},{"seg":"12b","lv":12,"i":1,"x":6.99,"y":5.01},{"seg":"12b","lv":12,"i":2,"x":7.01,"y":5.0},
{"seg":"15a","lv":15,"i":0,"x":5.0,"y":13.67},{"seg":"15a","lv":15,"i":1,"x":5.26,"y":12.4},{"seg":"15a","lv":15,"i":2,"x":5.69,"y":10.41},
{"seg":"15b","lv":15,"i":0,"x":5.88,"y":9.61},{"seg":"15b","lv":15,"i":1,"x":6.01,"y":9.24},{"seg":"15b","lv":15,"i":2,"x":6.2,"y":9.05},{"seg":"15b","lv":15,"i":3,"x":7.54,"y":6.15},{"seg":"15b","lv":15,"i":4,"x":7.94,"y":5.28},{"seg":"15b","lv":15,"i":5,"x":8.94,"y":5.28},{"seg":"15b","lv":15,"i":6,"x":9.05,"y":5.0},
{"seg":"18a","lv":18,"i":0,"x":5.28,"y":20},{"seg":"18a","lv":18,"i":1,"x":5.62,"y":18.07},{"seg":"18a","lv":18,"i":2,"x":5.96,"y":16.2},{"seg":"18a","lv":18,"i":3,"x":6.26,"y":14.33},{"seg":"18a","lv":18,"i":4,"x":6.46,"y":12.4},{"seg":"18a","lv":18,"i":5,"x":6.6,"y":11.48},{"seg":"18a","lv":18,"i":6,"x":6.78,"y":10.01},{"seg":"18a","lv":18,"i":7,"x":7.16,"y":9.19},{"seg":"18a","lv":18,"i":8,"x":8.15,"y":9.19},{"seg":"18a","lv":18,"i":9,"x":8.88,"y":7.68},
{"seg":"18b","lv":18,"i":0,"x":9.13,"y":7.01},{"seg":"18b","lv":18,"i":1,"x":9.82,"y":5.0},
{"seg":"22a","lv":22,"i":0,"x":5.9,"y":20},{"seg":"22a","lv":22,"i":1,"x":6.58,"y":15},{"seg":"22a","lv":22,"i":2,"x":6.99,"y":12.53},{"seg":"22a","lv":22,"i":3,"x":7.37,"y":12.53},
{"seg":"22b","lv":22,"i":0,"x":7.62,"y":12.41},{"seg":"22b","lv":22,"i":1,"x":8.0,"y":12.08},{"seg":"22b","lv":22,"i":2,"x":8.88,"y":10.01},{"seg":"22b","lv":22,"i":3,"x":9.18,"y":9.15},{"seg":"22b","lv":22,"i":4,"x":10.0,"y":7.55},
{"seg":"25a","lv":25,"i":0,"x":6.67,"y":20},{"seg":"25a","lv":25,"i":1,"x":6.97,"y":17.0},
{"seg":"25b","lv":25,"i":0,"x":7.12,"y":16.27},{"seg":"25b","lv":25,"i":1,"x":7.47,"y":15.4},{"seg":"25b","lv":25,"i":2,"x":7.62,"y":15.0},{"seg":"25b","lv":25,"i":3,"x":8.0,"y":14.71},{"seg":"25b","lv":25,"i":4,"x":8.75,"y":12.4},{"seg":"25b","lv":25,"i":5,"x":9.01,"y":11.61},{"seg":"25b","lv":25,"i":6,"x":9.9,"y":10.48},{"seg":"25b","lv":25,"i":7,"x":10.0,"y":10.45},
{"seg":"28a","lv":28,"i":0,"x":7.31,"y":20},{"seg":"28a","lv":28,"i":1,"x":7.54,"y":18.88},{"seg":"28a","lv":28,"i":2,"x":8.02,"y":16.87},{"seg":"28a","lv":28,"i":3,"x":8.88,"y":14.0},
{"seg":"28b","lv":28,"i":0,"x":9.13,"y":13.4},{"seg":"28b","lv":28,"i":1,"x":9.39,"y":13.13},{"seg":"28b","lv":28,"i":2,"x":10.0,"y":12.73},
{"seg":"31a","lv":31,"i":0,"x":7.83,"y":20},{"seg":"31a","lv":31,"i":1,"x":8.02,"y":19.33},{"seg":"31a","lv":31,"i":2,"x":8.45,"y":17.67},
{"seg":"31b","lv":31,"i":0,"x":8.71,"y":17.0},{"seg":"31b","lv":31,"i":1,"x":9.26,"y":16.13},{"seg":"31b","lv":31,"i":2,"x":9.86,"y":15.07},{"seg":"31b","lv":31,"i":3,"x":10.0,"y":15.0}
      ]},
      "mark": {"type": "line", "color": "#404040", "strokeWidth": 1},
      "encoding": {
        "x": {"field": "x", "type": "quantitative", "scale": {"domain": [5, 10], "nice": false, "zero": false}},
        "y": {"field": "y", "type": "quantitative", "scale": {"domain": [5, 20], "nice": false, "zero": false}},
        "detail": {"field": "seg"},
        "order": {"field": "i", "type": "quantitative"}
      }
    },
    {
      "data": {"values": [
        {"lv":12,"x":6.01,"y":6.08},{"lv":15,"x":5.76,"y":10.0},{"lv":18,"x":9.01,"y":7.4},{"lv":22,"x":7.5,"y":12.52},
        {"lv":25,"x":7.01,"y":16.56},{"lv":28,"x":9.0,"y":13.6},{"lv":31,"x":8.56,"y":17.2}
      ]},
      "mark": {"type": "text", "fontSize": 16, "font": "Liberation Sans", "color": "#000"},
      "encoding": {
        "x": {"field": "x", "type": "quantitative", "scale": {"domain": [5, 10], "nice": false, "zero": false}},
        "y": {"field": "y", "type": "quantitative", "scale": {"domain": [5, 20], "nice": false, "zero": false}},
        "text": {"field": "lv", "type": "quantitative"}
      }
    }
  ]
},
{
  "width": 32, "height": 377,
  "view": {"stroke": "#000", "strokeWidth": 1},
  "title": {"text": "MPLs Fleet Size (Units)", "anchor": "middle", "frame": "group", "fontSize": 16, "fontWeight": "normal", "color": "#000", "baseline": "alphabetic", "offset": -4},
  "layer": [
    {
      "data": {"values": [
{"lo":8.6,"hi":9.35,"mid":8.975},{"lo":9.35,"hi":10.1,"mid":9.725},{"lo":10.1,"hi":10.85,"mid":10.475},{"lo":10.85,"hi":11.6,"mid":11.225},{"lo":11.6,"hi":12.35,"mid":11.975},{"lo":12.35,"hi":13.1,"mid":12.725},{"lo":13.1,"hi":13.85,"mid":13.475},{"lo":13.85,"hi":14.6,"mid":14.225},{"lo":14.6,"hi":15.35,"mid":14.975},{"lo":15.35,"hi":16.1,"mid":15.725},{"lo":16.1,"hi":16.85,"mid":16.475},{"lo":16.85,"hi":17.6,"mid":17.225},{"lo":17.6,"hi":18.35,"mid":17.975},{"lo":18.35,"hi":19.1,"mid":18.725},{"lo":19.1,"hi":19.85,"mid":19.475},{"lo":19.85,"hi":20.6,"mid":20.225},{"lo":20.6,"hi":21.35,"mid":20.975},{"lo":21.35,"hi":22.1,"mid":21.725},{"lo":22.1,"hi":22.85,"mid":22.475},{"lo":22.85,"hi":23.6,"mid":23.225},{"lo":23.6,"hi":24.35,"mid":23.975},{"lo":24.35,"hi":25.1,"mid":24.725},{"lo":25.1,"hi":25.85,"mid":25.475},{"lo":25.85,"hi":26.6,"mid":26.225},{"lo":26.6,"hi":27.35,"mid":26.975},{"lo":27.35,"hi":28.1,"mid":27.725},{"lo":28.1,"hi":28.85,"mid":28.475},{"lo":28.85,"hi":29.6,"mid":29.225},{"lo":29.6,"hi":30.35,"mid":29.975},{"lo":30.35,"hi":31.1,"mid":30.725},{"lo":31.1,"hi":31.85,"mid":31.475},{"lo":31.85,"hi":32.6,"mid":32.225},{"lo":32.6,"hi":33.35,"mid":32.975},{"lo":33.35,"hi":34.1,"mid":33.725}
      ]},
      "mark": {"type": "rect", "strokeWidth": 0.6},
      "encoding": {
        "y": {"field": "lo", "type": "quantitative", "scale": {"domain": [8.6, 34.6], "nice": false, "zero": false},
              "axis": {"orient": "right", "title": null, "values": [9.1,12.22,15.34,18.46,21.58,24.7,27.82,30.94,34.06], "format": ".0f", "labelFontSize": 12, "labelPadding": 5, "tickSize": 5, "tickColor": "#333"}},
        "y2": {"field": "hi"},
        "color": {"field": "mid", "type": "quantitative", "scale": {"scheme": "magma", "domain": [8.6, 34.1], "clamp": true}, "legend": null},
        "stroke": {"field": "mid", "type": "quantitative", "scale": {"scheme": "magma", "domain": [8.6, 34.1], "clamp": true}, "legend": null}
      }
    },
    {
      "data": {"values": [{"lo": 34.1, "hi": 34.6}]},
      "mark": {"type": "rect", "color": "#808080"},
      "encoding": {
        "y": {"field": "lo", "type": "quantitative", "scale": {"domain": [8.6, 34.6], "nice": false, "zero": false}},
        "y2": {"field": "hi"}
      }
    }
  ]
},
{
  "width": 1, "height": 370,
  "data": {"values": []},
  "mark": "point"
},
{
  "width": 397, "height": 370,
  "view": {"stroke": "#8c8c8c"},
  "title": {"text": "(d) Effect of service radius and walking range", "orient": "bottom", "anchor": "middle", "frame": "group", "dx": 66, "offset": 10, "font": "Liberation Serif", "fontSize": 31, "fontWeight": "normal", "color": "#1a1a1a"},
  "layer": [
    {
      "data": {"values": [
{"x":3.0625,"y":0.2125,"v":38.82},{"x":3.1875,"y":0.2125,"v":38.59},{"x":3.3125,"y":0.2125,"v":38.35},{"x":3.4375,"y":0.2125,"v":38.12},{"x":3.5625,"y":0.2125,"v":37.88},{"x":3.6875,"y":0.2125,"v":37.63},{"x":3.8125,"y":0.2125,"v":37.38},{"x":3.9375,"y":0.2125,"v":37.13},{"x":4.0625,"y":0.2125,"v":36.88},{"x":4.1875,"y":0.2125,"v":36.63},{"x":4.3125,"y":0.2125,"v":36.38},{"x":4.4375,"y":0.2125,"v":36.13},{"x":4.5625,"y":0.2125,"v":35.75},{"x":4.6875,"y":0.2125,"v":35.25},{"x":4.8125,"y":0.2125,"v":34.75},{"x":4.9375,"y":0.2125,"v":34.25},{"x":5.0625,"y":0.2125,"v":33.88},{"x":5.1875,"y":0.2125,"v":33.63},{"x":5.3125,"y":0.2125,"v":33.38},{"x":5.4375,"y":0.2125,"v":33.13},{"x":5.5625,"y":0.2125,"v":32.9},{"x":5.6875,"y":0.2125,"v":32.7},{"x":5.8125,"y":0.2125,"v":32.5},{"x":5.9375,"y":0.2125,"v":32.3},
{"x":3.0625,"y":0.2375,"v":38.71},{"x":3.1875,"y":0.2375,"v":38.51},{"x":3.3125,"y":0.2375,"v":38.32},{"x":3.4375,"y":0.2375,"v":38.1},{"x":3.5625,"y":0.2375,"v":37.88},{"x":3.6875,"y":0.2375,"v":37.63},{"x":3.8125,"y":0.2375,"v":37.38},{"x":3.9375,"y":0.2375,"v":37.13},{"x":4.0625,"y":0.2375,"v":36.88},{"x":4.1875,"y":0.2375,"v":36.63},{"x":4.3125,"y":0.2375,"v":36.38},{"x":4.4375,"y":0.2375,"v":36.13},{"x":4.5625,"y":0.2375,"v":35.75},{"x":4.6875,"y":0.2375,"v":35.25},{"x":4.8125,"y":0.2375,"v":34.75},{"x":4.9375,"y":0.2375,"v":34.25},{"x":5.0625,"y":0.2375,"v":33.88},{"x":5.1875,"y":0.2375,"v":33.63},{"x":5.3125,"y":0.2375,"v":33.38},{"x":5.4375,"y":0.2375,"v":33.13},{"x":5.5625,"y":0.2375,"v":32.9},{"x":5.6875,"y":0.2375,"v":32.7},{"x":5.8125,"y":0.2375,"v":32.5},{"x":5.9375,"y":0.2375,"v":32.3},
{"x":3.0625,"y":0.2625,"v":38.6},{"x":3.1875,"y":0.2625,"v":38.43},{"x":3.3125,"y":0.2625,"v":38.26},{"x":3.4375,"y":0.2625,"v":38.09},{"x":3.5625,"y":0.2625,"v":37.88},{"x":3.6875,"y":0.2625,"v":37.63},{"x":3.8125,"y":0.2625,"v":37.38},{"x":3.9375,"y":0.2625,"v":37.13},{"x":4.0625,"y":0.2625,"v":36.88},{"x":4.1875,"y":0.2625,"v":36.63},{"x":4.3125,"y":0.2625,"v":36.38},{"x":4.4375,"y":0.2625,"v":36.13},{"x":4.5625,"y":0.2625,"v":35.75},{"x":4.6875,"y":0.2625,"v":35.25},{"x":4.8125,"y":0.2625,"v":34.75},{"x":4.9375,"y":0.2625,"v":34.25},{"x":5.0625,"y":0.2625,"v":33.88},{"x":5.1875,"y":0.2625,"v":33.63},{"x":5.3125,"y":0.2625,"v":33.38},{"x":5.4375,"y":0.2625,"v":33.13},{"x":5.5625,"y":0.2625,"v":32.9},{"x":5.6875,"y":0.2625,"v":32.7},{"x":5.8125,"y":0.2625,"v":32.5},{"x":5.9375,"y":0.2625,"v":32.3},
{"x":3.0625,"y":0.2875,"v":38.49},{"x":3.1875,"y":0.2875,"v":38.35},{"x":3.3125,"y":0.2875,"v":38.21},{"x":3.4375,"y":0.2875,"v":38.07},{"x":3.5625,"y":0.2875,"v":37.88},{"x":3.6875,"y":0.2875,"v":37.63},{"x":3.8125,"y":0.2875,"v":37.38},{"x":3.9375,"y":0.2875,"v":37.13},{"x":4.0625,"y":0.2875,"v":36.88},{"x":4.1875,"y":0.2875,"v":36.63},{"x":4.3125,"y":0.2875,"v":36.38},{"x":4.4375,"y":0.2875,"v":36.13},{"x":4.5625,"y":0.2875,"v":35.75},{"x":4.6875,"y":0.2875,"v":35.25},{"x":4.8125,"y":0.2875,"v":34.75},{"x":4.9375,"y":0.2875,"v":34.25},{"x":5.0625,"y":0.2875,"v":33.88},{"x":5.1875,"y":0.2875,"v":33.63},{"x":5.3125,"y":0.2875,"v":33.38},{"x":5.4375,"y":0.2875,"v":33.13},{"x":5.5625,"y":0.2875,"v":32.9},{"x":5.6875,"y":0.2875,"v":32.7},{"x":5.8125,"y":0.2875,"v":32.5},{"x":5.9375,"y":0.2875,"v":32.3},
{"x":3.0625,"y":0.3125,"v":38.37},{"x":3.1875,"y":0.3125,"v":38.23},{"x":3.3125,"y":0.3125,"v":38.09},{"x":3.4375,"y":0.3125,"v":37.95},{"x":3.5625,"y":0.3125,"v":37.75},{"x":3.6875,"y":0.3125,"v":37.5},{"x":3.8125,"y":0.3125,"v":37.25},{"x":3.9375,"y":0.3125,"v":37.0},{"x":4.0625,"y":0.3125,"v":36.75},{"x":4.1875,"y":0.3125,"v":36.5},{"x":4.3125,"y":0.3125,"v":36.25},{"x":4.4375,"y":0.3125,"v":36.0},{"x":4.5625,"y":0.3125,"v":35.64},{"x":4.6875,"y":0.3125,"v":35.17},{"x":4.8125,"y":0.3125,"v":34.7},{"x":4.9375,"y":0.3125,"v":34.23},{"x":5.0625,"y":0.3125,"v":33.88},{"x":5.1875,"y":0.3125,"v":33.63},{"x":5.3125,"y":0.3125,"v":33.38},{"x":5.4375,"y":0.3125,"v":33.13},{"x":5.5625,"y":0.3125,"v":32.9},{"x":5.6875,"y":0.3125,"v":32.7},{"x":5.8125,"y":0.3125,"v":32.5},{"x":5.9375,"y":0.3125,"v":32.3},
{"x":3.0625,"y":0.3375,"v":38.23},{"x":3.1875,"y":0.3375,"v":38.05},{"x":3.3125,"y":0.3375,"v":37.88},{"x":3.4375,"y":0.3375,"v":37.71},{"x":3.5625,"y":0.3375,"v":37.5},{"x":3.6875,"y":0.3375,"v":37.25},{"x":3.8125,"y":0.3375,"v":37.0},{"x":3.9375,"y":0.3375,"v":36.75},{"x":4.0625,"y":0.3375,"v":36.5},{"x":4.1875,"y":0.3375,"v":36.25},{"x":4.3125,"y":0.3375,"v":36.0},{"x":4.4375,"y":0.3375,"v":35.75},{"x":4.5625,"y":0.3375,"v":35.42},{"x":4.6875,"y":0.3375,"v":35.02},{"x":4.8125,"y":0.3375,"v":34.61},{"x":4.9375,"y":0.3375,"v":34.2},{"x":5.0625,"y":0.3375,"v":33.88},{"x":5.1875,"y":0.3375,"v":33.63},{"x":5.3125,"y":0.3375,"v":33.38},{"x":5.4375,"y":0.3375,"v":33.13},{"x":5.5625,"y":0.3375,"v":32.9},{"x":5.6875,"y":0.3375,"v":32.7},{"x":5.8125,"y":0.3375,"v":32.5},{"x":5.9375,"y":0.3375,"v":32.3},
{"x":3.0625,"y":0.3625,"v":38.09},{"x":3.1875,"y":0.3625,"v":37.88},{"x":3.3125,"y":0.3625,"v":37.68},{"x":3.4375,"y":0.3625,"v":37.48},{"x":3.5625,"y":0.3625,"v":37.25},{"x":3.6875,"y":0.3625,"v":37.0},{"x":3.8125,"y":0.3625,"v":36.75},{"x":3.9375,"y":0.3625,"v":36.5},{"x":4.0625,"y":0.3625,"v":36.25},{"x":4.1875,"y":0.3625,"v":36.0},{"x":4.3125,"y":0.3625,"v":35.75},{"x":4.4375,"y":0.3625,"v":35.5},{"x":4.5625,"y":0.3625,"v":35.2},{"x":4.6875,"y":0.3625,"v":34.86},{"x":4.8125,"y":0.3625,"v":34.52},{"x":4.9375,"y":0.3625,"v":34.17},{"x":5.0625,"y":0.3625,"v":33.88},{"x":5.1875,"y":0.3625,"v":33.63},{"x":5.3125,"y":0.3625,"v":33.38},{"x":5.4375,"y":0.3625,"v":33.13},{"x":5.5625,"y":0.3625,"v":32.9},{"x":5.6875,"y":0.3625,"v":32.7},{"x":5.8125,"y":0.3625,"v":32.5},{"x":5.9375,"y":0.3625,"v":32.3},
{"x":3.0625,"y":0.3875,"v":37.95},{"x":3.1875,"y":0.3875,"v":37.71},{"x":3.3125,"y":0.3875,"v":37.48},{"x":3.4375,"y":0.3875,"v":37.24},{"x":3.5625,"y":0.3875,"v":37.0},{"x":3.6875,"y":0.3875,"v":36.75},{"x":3.8125,"y":0.3875,"v":36.5},{"x":3.9375,"y":0.3875,"v":36.25},{"x":4.0625,"y":0.3875,"v":36.0},{"x":4.1875,"y":0.3875,"v":35.75},{"x":4.3125,"y":0.3875,"v":35.5},{"x":4.4375,"y":0.3875,"v":35.25},{"x":4.5625,"y":0.3875,"v":34.98},{"x":4.6875,"y":0.3875,"v":34.7},{"x":4.8125,"y":0.3875,"v":34.42},{"x":4.9375,"y":0.3875,"v":34.14},{"x":5.0625,"y":0.3875,"v":33.88},{"x":5.1875,"y":0.3875,"v":33.63},{"x":5.3125,"y":0.3875,"v":33.38},{"x":5.4375,"y":0.3875,"v":33.13},{"x":5.5625,"y":0.3875,"v":32.9},{"x":5.6875,"y":0.3875,"v":32.7},{"x":5.8125,"y":0.3875,"v":32.5},{"x":5.9375,"y":0.3875,"v":32.3},
{"x":3.0625,"y":0.4125,"v":37.84},{"x":3.1875,"y":0.4125,"v":37.6},{"x":3.3125,"y":0.4125,"v":37.36},{"x":3.4375,"y":0.4125,"v":37.12},{"x":3.5625,"y":0.4125,"v":36.88},{"x":3.6875,"y":0.4125,"v":36.63},{"x":3.8125,"y":0.4125,"v":36.38},{"x":3.9375,"y":0.4125,"v":36.13},{"x":4.0625,"y":0.4125,"v":35.88},{"x":4.1875,"y":0.4125,"v":35.63},{"x":4.3125,"y":0.4125,"v":35.38},{"x":4.4375,"y":0.4125,"v":35.13},{"x":4.5625,"y":0.4125,"v":34.88},{"x":4.6875,"y":0.4125,"v":34.63},{"x":4.8125,"y":0.4125,"v":34.38},{"x":4.9375,"y":0.4125,"v":34.13},{"x":5.0625,"y":0.4125,"v":33.88},{"x":5.1875,"y":0.4125,"v":33.63},{"x":5.3125,"y":0.4125,"v":33.38},{"x":5.4375,"y":0.4125,"v":33.13},{"x":5.5625,"y":0.4125,"v":32.9},{"x":5.6875,"y":0.4125,"v":32.7},{"x":5.8125,"y":0.4125,"v":32.5},{"x":5.9375,"y":0.4125,"v":32.3},
{"x":3.0625,"y":0.4375,"v":37.78},{"x":3.1875,"y":0.4375,"v":37.55},{"x":3.3125,"y":0.4375,"v":37.33},{"x":3.4375,"y":0.4375,"v":37.11},{"x":3.5625,"y":0.4375,"v":36.88},{"x":3.6875,"y":0.4375,"v":36.63},{"x":3.8125,"y":0.4375,"v":36.38},{"x":3.9375,"y":0.4375,"v":36.13},{"x":4.0625,"y":0.4375,"v":35.88},{"x":4.1875,"y":0.4375,"v":35.63},{"x":4.3125,"y":0.4375,"v":35.38},{"x":4.4375,"y":0.4375,"v":35.13},{"x":4.5625,"y":0.4375,"v":34.88},{"x":4.6875,"y":0.4375,"v":34.63},{"x":4.8125,"y":0.4375,"v":34.38},{"x":4.9375,"y":0.4375,"v":34.13},{"x":5.0625,"y":0.4375,"v":33.88},{"x":5.1875,"y":0.4375,"v":33.63},{"x":5.3125,"y":0.4375,"v":33.38},{"x":5.4375,"y":0.4375,"v":33.13},{"x":5.5625,"y":0.4375,"v":32.9},{"x":5.6875,"y":0.4375,"v":32.7},{"x":5.8125,"y":0.4375,"v":32.5},{"x":5.9375,"y":0.4375,"v":32.3},
{"x":3.0625,"y":0.4625,"v":37.71},{"x":3.1875,"y":0.4625,"v":37.51},{"x":3.3125,"y":0.4625,"v":37.32},{"x":3.4375,"y":0.4625,"v":37.1},{"x":3.5625,"y":0.4625,"v":36.88},{"x":3.6875,"y":0.4625,"v":36.63},{"x":3.8125,"y":0.4625,"v":36.38},{"x":3.9375,"y":0.4625,"v":36.13},{"x":4.0625,"y":0.4625,"v":35.88},{"x":4.1875,"y":0.4625,"v":35.63},{"x":4.3125,"y":0.4625,"v":35.38},{"x":4.4375,"y":0.4625,"v":35.13},{"x":4.5625,"y":0.4625,"v":34.88},{"x":4.6875,"y":0.4625,"v":34.63},{"x":4.8125,"y":0.4625,"v":34.38},{"x":4.9375,"y":0.4625,"v":34.13},{"x":5.0625,"y":0.4625,"v":33.88},{"x":5.1875,"y":0.4625,"v":33.63},{"x":5.3125,"y":0.4625,"v":33.38},{"x":5.4375,"y":0.4625,"v":33.13},{"x":5.5625,"y":0.4625,"v":32.9},{"x":5.6875,"y":0.4625,"v":32.7},{"x":5.8125,"y":0.4625,"v":32.5},{"x":5.9375,"y":0.4625,"v":32.3},
{"x":3.0625,"y":0.4875,"v":37.65},{"x":3.1875,"y":0.4875,"v":37.46},{"x":3.3125,"y":0.4875,"v":37.28},{"x":3.4375,"y":0.4875,"v":37.09},{"x":3.5625,"y":0.4875,"v":36.88},{"x":3.6875,"y":0.4875,"v":36.63},{"x":3.8125,"y":0.4875,"v":36.38},{"x":3.9375,"y":0.4875,"v":36.13},{"x":4.0625,"y":0.4875,"v":35.88},{"x":4.1875,"y":0.4875,"v":35.63},{"x":4.3125,"y":0.4875,"v":35.38},{"x":4.4375,"y":0.4875,"v":35.13},{"x":4.5625,"y":0.4875,"v":34.88},{"x":4.6875,"y":0.4875,"v":34.63},{"x":4.8125,"y":0.4875,"v":34.38},{"x":4.9375,"y":0.4875,"v":34.13},{"x":5.0625,"y":0.4875,"v":33.88},{"x":5.1875,"y":0.4875,"v":33.63},{"x":5.3125,"y":0.4875,"v":33.38},{"x":5.4375,"y":0.4875,"v":33.13},{"x":5.5625,"y":0.4875,"v":32.9},{"x":5.6875,"y":0.4875,"v":32.7},{"x":5.8125,"y":0.4875,"v":32.5},{"x":5.9375,"y":0.4875,"v":32.3},
{"x":3.0625,"y":0.5125,"v":37.57},{"x":3.1875,"y":0.5125,"v":37.41},{"x":3.3125,"y":0.5125,"v":37.24},{"x":3.4375,"y":0.5125,"v":37.08},{"x":3.5625,"y":0.5125,"v":36.88},{"x":3.6875,"y":0.5125,"v":36.63},{"x":3.8125,"y":0.5125,"v":36.38},{"x":3.9375,"y":0.5125,"v":36.13},{"x":4.0625,"y":0.5125,"v":35.88},{"x":4.1875,"y":0.5125,"v":35.63},{"x":4.3125,"y":0.5125,"v":35.38},{"x":4.4375,"y":0.5125,"v":35.13},{"x":4.5625,"y":0.5125,"v":34.86},{"x":4.6875,"y":0.5125,"v":34.58},{"x":4.8125,"y":0.5125,"v":34.3},{"x":4.9375,"y":0.5125,"v":34.02},{"x":5.0625,"y":0.5125,"v":33.75},{"x":5.1875,"y":0.5125,"v":33.5},{"x":5.3125,"y":0.5125,"v":33.25},{"x":5.4375,"y":0.5125,"v":33.0},{"x":5.5625,"y":0.5125,"v":32.77},{"x":5.6875,"y":0.5125,"v":32.57},{"x":5.8125,"y":0.5125,"v":32.36},{"x":5.9375,"y":0.5125,"v":32.15},
{"x":3.0625,"y":0.5375,"v":37.48},{"x":3.1875,"y":0.5375,"v":37.34},{"x":3.3125,"y":0.5375,"v":37.21},{"x":3.4375,"y":0.5375,"v":37.07},{"x":3.5625,"y":0.5375,"v":36.88},{"x":3.6875,"y":0.5375,"v":36.63},{"x":3.8125,"y":0.5375,"v":36.38},{"x":3.9375,"y":0.5375,"v":36.13},{"x":4.0625,"y":0.5375,"v":35.88},{"x":4.1875,"y":0.5375,"v":35.63},{"x":4.3125,"y":0.5375,"v":35.38},{"x":4.4375,"y":0.5375,"v":35.13},{"x":4.5625,"y":0.5375,"v":34.83},{"x":4.6875,"y":0.5375,"v":34.48},{"x":4.8125,"y":0.5375,"v":34.14},{"x":4.9375,"y":0.5375,"v":33.8},{"x":5.0625,"y":0.5375,"v":33.5},{"x":5.1875,"y":0.5375,"v":33.25},{"x":5.3125,"y":0.5375,"v":33.0},{"x":5.4375,"y":0.5375,"v":32.75},{"x":5.5625,"y":0.5375,"v":32.52},{"x":5.6875,"y":0.5375,"v":32.3},{"x":5.8125,"y":0.5375,"v":32.08},{"x":5.9375,"y":0.5375,"v":31.86},
{"x":3.0625,"y":0.5625,"v":37.39},{"x":3.1875,"y":0.5625,"v":37.28},{"x":3.3125,"y":0.5625,"v":37.17},{"x":3.4375,"y":0.5625,"v":37.06},{"x":3.5625,"y":0.5625,"v":36.88},{"x":3.6875,"y":0.5625,"v":36.63},{"x":3.8125,"y":0.5625,"v":36.38},{"x":3.9375,"y":0.5625,"v":36.13},{"x":4.0625,"y":0.5625,"v":35.88},{"x":4.1875,"y":0.5625,"v":35.63},{"x":4.3125,"y":0.5625,"v":35.38},{"x":4.4375,"y":0.5625,"v":35.13},{"x":4.5625,"y":0.5625,"v":34.8},{"x":4.6875,"y":0.5625,"v":34.39},{"x":4.8125,"y":0.5625,"v":33.98},{"x":4.9375,"y":0.5625,"v":33.58},{"x":5.0625,"y":0.5625,"v":33.25},{"x":5.1875,"y":0.5625,"v":33.0},{"x":5.3125,"y":0.5625,"v":32.75},{"x":5.4375,"y":0.5625,"v":32.5},{"x":5.5625,"y":0.5625,"v":32.26},{"x":5.6875,"y":0.5625,"v":32.03},{"x":5.8125,"y":0.5625,"v":31.8},{"x":5.9375,"y":0.5625,"v":31.57},
{"x":3.0625,"y":0.5875,"v":37.31},{"x":3.1875,"y":0.5875,"v":37.22},{"x":3.3125,"y":0.5875,"v":37.13},{"x":3.4375,"y":0.5875,"v":37.04},{"x":3.5625,"y":0.5875,"v":36.88},{"x":3.6875,"y":0.5875,"v":36.63},{"x":3.8125,"y":0.5875,"v":36.38},{"x":3.9375,"y":0.5875,"v":36.13},{"x":4.0625,"y":0.5875,"v":35.88},{"x":4.1875,"y":0.5875,"v":35.63},{"x":4.3125,"y":0.5875,"v":35.38},{"x":4.4375,"y":0.5875,"v":35.13},{"x":4.5625,"y":0.5875,"v":34.77},{"x":4.6875,"y":0.5875,"v":34.3},{"x":4.8125,"y":0.5875,"v":33.83},{"x":4.9375,"y":0.5875,"v":33.36},{"x":5.0625,"y":0.5875,"v":33.0},{"x":5.1875,"y":0.5875,"v":32.75},{"x":5.3125,"y":0.5875,"v":32.5},{"x":5.4375,"y":0.5875,"v":32.25},{"x":5.5625,"y":0.5875,"v":32.0},{"x":5.6875,"y":0.5875,"v":31.76},{"x":5.8125,"y":0.5875,"v":31.52},{"x":5.9375,"y":0.5875,"v":31.27},
{"x":3.0625,"y":0.6125,"v":37.26},{"x":3.1875,"y":0.6125,"v":37.19},{"x":3.3125,"y":0.6125,"v":37.11},{"x":3.4375,"y":0.6125,"v":37.04},{"x":3.5625,"y":0.6125,"v":36.88},{"x":3.6875,"y":0.6125,"v":36.63},{"x":3.8125,"y":0.6125,"v":36.38},{"x":3.9375,"y":0.6125,"v":36.13},{"x":4.0625,"y":0.6125,"v":35.88},{"x":4.1875,"y":0.6125,"v":35.63},{"x":4.3125,"y":0.6125,"v":35.38},{"x":4.4375,"y":0.6125,"v":35.13},{"x":4.5625,"y":0.6125,"v":34.75},{"x":4.6875,"y":0.6125,"v":34.25},{"x":4.8125,"y":0.6125,"v":33.75},{"x":4.9375,"y":0.6125,"v":33.25},{"x":5.0625,"y":0.6125,"v":32.88},{"x":5.1875,"y":0.6125,"v":32.63},{"x":5.3125,"y":0.6125,"v":32.38},{"x":5.4375,"y":0.6125,"v":32.13},{"x":5.5625,"y":0.6125,"v":31.88},{"x":5.6875,"y":0.6125,"v":31.63},{"x":5.8125,"y":0.6125,"v":31.38},{"x":5.9375,"y":0.6125,"v":31.13},
{"x":3.0625,"y":0.6375,"v":37.26},{"x":3.1875,"y":0.6375,"v":37.19},{"x":3.3125,"y":0.6375,"v":37.11},{"x":3.4375,"y":0.6375,"v":37.04},{"x":3.5625,"y":0.6375,"v":36.88},{"x":3.6875,"y":0.6375,"v":36.63},{"x":3.8125,"y":0.6375,"v":36.38},{"x":3.9375,"y":0.6375,"v":36.13},{"x":4.0625,"y":0.6375,"v":35.88},{"x":4.1875,"y":0.6375,"v":35.63},{"x":4.3125,"y":0.6375,"v":35.38},{"x":4.4375,"y":0.6375,"v":35.13},{"x":4.5625,"y":0.6375,"v":34.75},{"x":4.6875,"y":0.6375,"v":34.25},{"x":4.8125,"y":0.6375,"v":33.75},{"x":4.9375,"y":0.6375,"v":33.25},{"x":5.0625,"y":0.6375,"v":32.88},{"x":5.1875,"y":0.6375,"v":32.63},{"x":5.3125,"y":0.6375,"v":32.38},{"x":5.4375,"y":0.6375,"v":32.13},{"x":5.5625,"y":0.6375,"v":31.88},{"x":5.6875,"y":0.6375,"v":31.63},{"x":5.8125,"y":0.6375,"v":31.38},{"x":5.9375,"y":0.6375,"v":31.13},
{"x":3.0625,"y":0.6625,"v":37.26},{"x":3.1875,"y":0.6625,"v":37.19},{"x":3.3125,"y":0.6625,"v":37.11},{"x":3.4375,"y":0.6625,"v":37.04},{"x":3.5625,"y":0.6625,"v":36.88},{"x":3.6875,"y":0.6625,"v":36.63},{"x":3.8125,"y":0.6625,"v":36.38},{"x":3.9375,"y":0.6625,"v":36.13},{"x":4.0625,"y":0.6625,"v":35.88},{"x":4.1875,"y":0.6625,"v":35.63},{"x":4.3125,"y":0.6625,"v":35.38},{"x":4.4375,"y":0.6625,"v":35.13},{"x":4.5625,"y":0.6625,"v":34.75},{"x":4.6875,"y":0.6625,"v":34.25},{"x":4.8125,"y":0.6625,"v":33.75},{"x":4.9375,"y":0.6625,"v":33.25},{"x":5.0625,"y":0.6625,"v":32.88},{"x":5.1875,"y":0.6625,"v":32.63},{"x":5.3125,"y":0.6625,"v":32.38},{"x":5.4375,"y":0.6625,"v":32.13},{"x":5.5625,"y":0.6625,"v":31.88},{"x":5.6875,"y":0.6625,"v":31.63},{"x":5.8125,"y":0.6625,"v":31.38},{"x":5.9375,"y":0.6625,"v":31.13},
{"x":3.0625,"y":0.6875,"v":37.26},{"x":3.1875,"y":0.6875,"v":37.19},{"x":3.3125,"y":0.6875,"v":37.11},{"x":3.4375,"y":0.6875,"v":37.04},{"x":3.5625,"y":0.6875,"v":36.88},{"x":3.6875,"y":0.6875,"v":36.63},{"x":3.8125,"y":0.6875,"v":36.38},{"x":3.9375,"y":0.6875,"v":36.13},{"x":4.0625,"y":0.6875,"v":35.88},{"x":4.1875,"y":0.6875,"v":35.63},{"x":4.3125,"y":0.6875,"v":35.38},{"x":4.4375,"y":0.6875,"v":35.13},{"x":4.5625,"y":0.6875,"v":34.75},{"x":4.6875,"y":0.6875,"v":34.25},{"x":4.8125,"y":0.6875,"v":33.75},{"x":4.9375,"y":0.6875,"v":33.25},{"x":5.0625,"y":0.6875,"v":32.88},{"x":5.1875,"y":0.6875,"v":32.63},{"x":5.3125,"y":0.6875,"v":32.38},{"x":5.4375,"y":0.6875,"v":32.13},{"x":5.5625,"y":0.6875,"v":31.88},{"x":5.6875,"y":0.6875,"v":31.63},{"x":5.8125,"y":0.6875,"v":31.38},{"x":5.9375,"y":0.6875,"v":31.13},
{"x":3.0625,"y":0.7125,"v":37.26},{"x":3.1875,"y":0.7125,"v":37.19},{"x":3.3125,"y":0.7125,"v":37.11},{"x":3.4375,"y":0.7125,"v":37.04},{"x":3.5625,"y":0.7125,"v":36.88},{"x":3.6875,"y":0.7125,"v":36.63},{"x":3.8125,"y":0.7125,"v":36.38},{"x":3.9375,"y":0.7125,"v":36.13},{"x":4.0625,"y":0.7125,"v":35.88},{"x":4.1875,"y":0.7125,"v":35.63},{"x":4.3125,"y":0.7125,"v":35.38},{"x":4.4375,"y":0.7125,"v":35.13},{"x":4.5625,"y":0.7125,"v":34.75},{"x":4.6875,"y":0.7125,"v":34.25},{"x":4.8125,"y":0.7125,"v":33.75},{"x":4.9375,"y":0.7125,"v":33.25},{"x":5.0625,"y":0.7125,"v":32.88},{"x":5.1875,"y":0.7125,"v":32.63},{"x":5.3125,"y":0.7125,"v":32.38},{"x":5.4375,"y":0.7125,"v":32.13},{"x":5.5625,"y":0.7125,"v":31.88},{"x":5.6875,"y":0.7125,"v":31.63},{"x":5.8125,"y":0.7125,"v":31.38},{"x":5.9375,"y":0.7125,"v":31.13},
{"x":3.0625,"y":0.7375,"v":37.26},{"x":3.1875,"y":0.7375,"v":37.19},{"x":3.3125,"y":0.7375,"v":37.11},{"x":3.4375,"y":0.7375,"v":37.04},{"x":3.5625,"y":0.7375,"v":36.88},{"x":3.6875,"y":0.7375,"v":36.63},{"x":3.8125,"y":0.7375,"v":36.38},{"x":3.9375,"y":0.7375,"v":36.13},{"x":4.0625,"y":0.7375,"v":35.88},{"x":4.1875,"y":0.7375,"v":35.63},{"x":4.3125,"y":0.7375,"v":35.38},{"x":4.4375,"y":0.7375,"v":35.13},{"x":4.5625,"y":0.7375,"v":34.75},{"x":4.6875,"y":0.7375,"v":34.25},{"x":4.8125,"y":0.7375,"v":33.75},{"x":4.9375,"y":0.7375,"v":33.25},{"x":5.0625,"y":0.7375,"v":32.88},{"x":5.1875,"y":0.7375,"v":32.63},{"x":5.3125,"y":0.7375,"v":32.38},{"x":5.4375,"y":0.7375,"v":32.13},{"x":5.5625,"y":0.7375,"v":31.88},{"x":5.6875,"y":0.7375,"v":31.63},{"x":5.8125,"y":0.7375,"v":31.38},{"x":5.9375,"y":0.7375,"v":31.13},
{"x":3.0625,"y":0.7625,"v":37.26},{"x":3.1875,"y":0.7625,"v":37.19},{"x":3.3125,"y":0.7625,"v":37.11},{"x":3.4375,"y":0.7625,"v":37.04},{"x":3.5625,"y":0.7625,"v":36.88},{"x":3.6875,"y":0.7625,"v":36.63},{"x":3.8125,"y":0.7625,"v":36.38},{"x":3.9375,"y":0.7625,"v":36.13},{"x":4.0625,"y":0.7625,"v":35.88},{"x":4.1875,"y":0.7625,"v":35.63},{"x":4.3125,"y":0.7625,"v":35.38},{"x":4.4375,"y":0.7625,"v":35.13},{"x":4.5625,"y":0.7625,"v":34.75},{"x":4.6875,"y":0.7625,"v":34.25},{"x":4.8125,"y":0.7625,"v":33.75},{"x":4.9375,"y":0.7625,"v":33.25},{"x":5.0625,"y":0.7625,"v":32.88},{"x":5.1875,"y":0.7625,"v":32.63},{"x":5.3125,"y":0.7625,"v":32.38},{"x":5.4375,"y":0.7625,"v":32.13},{"x":5.5625,"y":0.7625,"v":31.88},{"x":5.6875,"y":0.7625,"v":31.63},{"x":5.8125,"y":0.7625,"v":31.38},{"x":5.9375,"y":0.7625,"v":31.13},
{"x":3.0625,"y":0.7875,"v":37.26},{"x":3.1875,"y":0.7875,"v":37.19},{"x":3.3125,"y":0.7875,"v":37.11},{"x":3.4375,"y":0.7875,"v":37.04},{"x":3.5625,"y":0.7875,"v":36.88},{"x":3.6875,"y":0.7875,"v":36.63},{"x":3.8125,"y":0.7875,"v":36.38},{"x":3.9375,"y":0.7875,"v":36.13},{"x":4.0625,"y":0.7875,"v":35.88},{"x":4.1875,"y":0.7875,"v":35.63},{"x":4.3125,"y":0.7875,"v":35.38},{"x":4.4375,"y":0.7875,"v":35.13},{"x":4.5625,"y":0.7875,"v":34.75},{"x":4.6875,"y":0.7875,"v":34.25},{"x":4.8125,"y":0.7875,"v":33.75},{"x":4.9375,"y":0.7875,"v":33.25},{"x":5.0625,"y":0.7875,"v":32.88},{"x":5.1875,"y":0.7875,"v":32.63},{"x":5.3125,"y":0.7875,"v":32.38},{"x":5.4375,"y":0.7875,"v":32.13},{"x":5.5625,"y":0.7875,"v":31.88},{"x":5.6875,"y":0.7875,"v":31.63},{"x":5.8125,"y":0.7875,"v":31.38},{"x":5.9375,"y":0.7875,"v":31.13}
      ]},
      "mark": {"type": "rect", "strokeWidth": 0.6},
      "encoding": {
        "x": {"field": "x", "type": "quantitative", "bin": {"step": 0.125, "extent": [3, 6], "nice": false},
              "scale": {"domain": [3, 6], "nice": false, "zero": false},
              "axis": {"title": "Locker Service Radius rₘ (Km)", "values": [3,3.25,3.5,3.75,4,4.25,4.5,4.75,5,5.25,5.5,5.75,6], "format": ".1f",
                       "labelExpr": "round(datum.value * 4) % 2 == 0 ? datum.label : ''",
                       "tickSize": {"condition": {"test": "round(datum.value * 4) % 2 == 0", "value": 5}, "value": 3},
                       "labelPadding": 5, "titlePadding": 3}},
        "y": {"field": "y", "type": "quantitative", "bin": {"step": 0.025, "extent": [0.2, 0.8], "nice": false},
              "scale": {"domain": [0.2, 0.8], "nice": false, "zero": false},
              "axis": {"title": "Customer Walking Range ρc (Km)", "values": [0.2,0.25,0.3,0.35,0.4,0.45,0.5,0.55,0.6,0.65,0.7,0.75,0.8], "format": ".1f",
                       "labelExpr": "round(datum.value * 20) % 2 == 0 ? datum.label : ''",
                       "tickSize": {"condition": {"test": "round(datum.value * 20) % 2 == 0", "value": 5}, "value": 3},
                       "labelPadding": 7, "titlePadding": 4}},
        "color": {"field": "v", "type": "quantitative", "scale": {"scheme": "magma", "domain": [31, 39], "clamp": true}, "legend": null},
        "stroke": {"field": "v", "type": "quantitative", "scale": {"scheme": "magma", "domain": [31, 39], "clamp": true}, "legend": null}
      }
    },
    {
      "data": {"values": [
{"seg":"38a","lv":38,"i":0,"x":3.0,"y":0.4},{"seg":"38a","lv":38,"i":1,"x":3.42,"y":0.318},
{"seg":"38b","lv":38,"i":0,"x":3.5,"y":0.283},{"seg":"38b","lv":38,"i":1,"x":3.5,"y":0.2},
{"seg":"37a","lv":37,"i":0,"x":3.5,"y":0.8},{"seg":"37a","lv":37,"i":1,"x":3.5,"y":0.413},
{"seg":"37b","lv":37,"i":0,"x":3.57,"y":0.384},{"seg":"37b","lv":37,"i":1,"x":4.0,"y":0.3},{"seg":"37b","lv":37,"i":2,"x":4.0,"y":0.2},
{"seg":"36a","lv":36,"i":0,"x":4.0,"y":0.8},{"seg":"36a","lv":36,"i":1,"x":4.0,"y":0.61},
{"seg":"36b","lv":36,"i":0,"x":4.0,"y":0.588},{"seg":"36b","lv":36,"i":1,"x":4.0,"y":0.4},{"seg":"36b","lv":36,"i":2,"x":4.5,"y":0.3},{"seg":"36b","lv":36,"i":3,"x":4.5,"y":0.2},
{"seg":"35a","lv":35,"i":0,"x":4.5,"y":0.8},{"seg":"35a","lv":35,"i":1,"x":4.5,"y":0.413},
{"seg":"35b","lv":35,"i":0,"x":4.54,"y":0.384},{"seg":"35b","lv":35,"i":1,"x":4.75,"y":0.3},{"seg":"35b","lv":35,"i":2,"x":4.75,"y":0.2},
{"seg":"34a","lv":34,"i":0,"x":4.75,"y":0.8},{"seg":"34a","lv":34,"i":1,"x":4.75,"y":0.71},
{"seg":"34b","lv":34,"i":0,"x":4.75,"y":0.686},{"seg":"34b","lv":34,"i":1,"x":4.75,"y":0.6},{"seg":"34b","lv":34,"i":2,"x":5.0,"y":0.5},{"seg":"34b","lv":34,"i":3,"x":5.0,"y":0.2},
{"seg":"33a","lv":33,"i":0,"x":5.0,"y":0.8},{"seg":"33a","lv":33,"i":1,"x":5.0,"y":0.6},{"seg":"33a","lv":33,"i":2,"x":5.5,"y":0.5},{"seg":"33a","lv":33,"i":3,"x":5.5,"y":0.31},
{"seg":"33b","lv":33,"i":0,"x":5.5,"y":0.286},{"seg":"33b","lv":33,"i":1,"x":5.5,"y":0.2},
{"seg":"32a","lv":32,"i":0,"x":5.5,"y":0.8},{"seg":"32a","lv":32,"i":1,"x":5.5,"y":0.613},
{"seg":"32b","lv":32,"i":0,"x":5.566,"y":0.584},{"seg":"32b","lv":32,"i":1,"x":6.0,"y":0.5}
      ]},
      "mark": {"type": "line", "color": "#404040", "strokeWidth": 1},
      "encoding": {
        "x": {"field": "x", "type": "quantitative", "scale": {"domain": [3, 6], "nice": false, "zero": false}},
        "y": {"field": "y", "type": "quantitative", "scale": {"domain": [0.2, 0.8], "nice": false, "zero": false}},
        "detail": {"field": "seg"},
        "order": {"field": "i", "type": "quantitative"}
      }
    },
    {
      "data": {"values": [
        {"lv":38,"x":3.5,"y":0.3},{"lv":37,"x":3.5,"y":0.4},{"lv":36,"x":4.0,"y":0.6},{"lv":35,"x":4.5,"y":0.4},
        {"lv":34,"x":4.75,"y":0.7},{"lv":33,"x":5.5,"y":0.3},{"lv":32,"x":5.5,"y":0.6}
      ]},
      "mark": {"type": "text", "fontSize": 16, "font": "Liberation Sans", "color": "#000"},
      "encoding": {
        "x": {"field": "x", "type": "quantitative", "scale": {"domain": [3, 6], "nice": false, "zero": false}},
        "y": {"field": "y", "type": "quantitative", "scale": {"domain": [0.2, 0.8], "nice": false, "zero": false}},
        "text": {"field": "lv", "type": "quantitative"}
      }
    }
  ]
},
{
  "width": 32, "height": 370,
  "view": {"stroke": "#000", "strokeWidth": 1},
  "title": {"text": "MPLs Fleet Size (Units)", "anchor": "middle", "frame": "group", "fontSize": 16, "fontWeight": "normal", "color": "#000", "baseline": "alphabetic", "offset": -4},
  "layer": [
    {
      "data": {"values": [
{"lo":30.84,"hi":31.2,"mid":31.1},{"lo":31.2,"hi":31.4,"mid":31.3},{"lo":31.4,"hi":31.6,"mid":31.5},{"lo":31.6,"hi":31.8,"mid":31.7},{"lo":31.8,"hi":32.0,"mid":31.9},{"lo":32.0,"hi":32.2,"mid":32.1},{"lo":32.2,"hi":32.4,"mid":32.3},{"lo":32.4,"hi":32.6,"mid":32.5},{"lo":32.6,"hi":32.8,"mid":32.7},{"lo":32.8,"hi":33.0,"mid":32.9},{"lo":33.0,"hi":33.2,"mid":33.1},{"lo":33.2,"hi":33.4,"mid":33.3},{"lo":33.4,"hi":33.6,"mid":33.5},{"lo":33.6,"hi":33.8,"mid":33.7},{"lo":33.8,"hi":34.0,"mid":33.9},{"lo":34.0,"hi":34.2,"mid":34.1},{"lo":34.2,"hi":34.4,"mid":34.3},{"lo":34.4,"hi":34.6,"mid":34.5},{"lo":34.6,"hi":34.8,"mid":34.7},{"lo":34.8,"hi":35.0,"mid":34.9},{"lo":35.0,"hi":35.2,"mid":35.1},{"lo":35.2,"hi":35.4,"mid":35.3},{"lo":35.4,"hi":35.6,"mid":35.5},{"lo":35.6,"hi":35.8,"mid":35.7},{"lo":35.8,"hi":36.0,"mid":35.9},{"lo":36.0,"hi":36.2,"mid":36.1},{"lo":36.2,"hi":36.4,"mid":36.3},{"lo":36.4,"hi":36.6,"mid":36.5},{"lo":36.6,"hi":36.8,"mid":36.7},{"lo":36.8,"hi":37.0,"mid":36.9},{"lo":37.0,"hi":37.2,"mid":37.1},{"lo":37.2,"hi":37.4,"mid":37.3},{"lo":37.4,"hi":37.6,"mid":37.5},{"lo":37.6,"hi":37.8,"mid":37.7},{"lo":37.8,"hi":38.0,"mid":37.9},{"lo":38.0,"hi":38.2,"mid":38.1},{"lo":38.2,"hi":38.4,"mid":38.3},{"lo":38.4,"hi":38.6,"mid":38.5},{"lo":38.6,"hi":38.8,"mid":38.7},{"lo":38.8,"hi":39.0,"mid":38.9}
      ]},
      "mark": {"type": "rect", "strokeWidth": 0.6},
      "encoding": {
        "y": {"field": "lo", "type": "quantitative", "scale": {"domain": [30.84, 39.16], "nice": false, "zero": false},
              "axis": {"orient": "right", "title": null, "values": [31,32,33,34,35,36,37,38,39], "format": "d", "labelFontSize": 12, "labelPadding": 6, "tickSize": 5, "tickColor": "#333"}},
        "y2": {"field": "hi"},
        "color": {"field": "mid", "type": "quantitative", "scale": {"scheme": "magma", "domain": [31, 39], "clamp": true}, "legend": null},
        "stroke": {"field": "mid", "type": "quantitative", "scale": {"scheme": "magma", "domain": [31, 39], "clamp": true}, "legend": null}
      }
    },
    {
      "data": {"values": [{"lo": 39.0, "hi": 39.16}]},
      "mark": {"type": "rect", "color": "#808080"},
      "encoding": {
        "y": {"field": "lo", "type": "quantitative", "scale": {"domain": [30.84, 39.16], "nice": false, "zero": false}},
        "y2": {"field": "hi"}
      }
    }
  ]
}
]
}
